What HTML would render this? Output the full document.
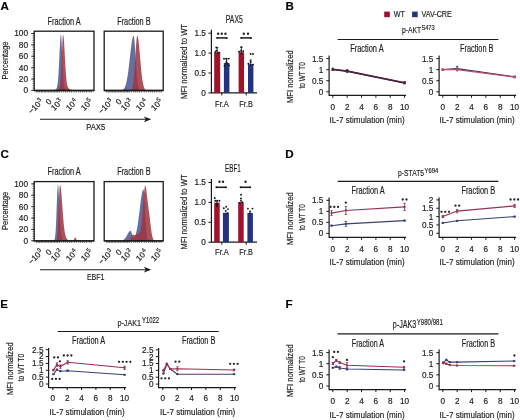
<!DOCTYPE html><html><head><meta charset="utf-8"><style>html,body{margin:0;padding:0;background:#fff;width:520px;height:420px;overflow:hidden}svg{display:block}</style></head><body><svg width="520" height="420" viewBox="0 0 520 420" font-family='"Liberation Sans", sans-serif' fill="#1a1a1a">
<style>text{stroke:#262626;stroke-width:0.18px}</style>
<defs><filter id="bl" x="0" y="0" width="1" height="1" color-interpolation-filters="sRGB"><feGaussianBlur stdDeviation="0.33"/></filter></defs>
<rect width="520" height="420" fill="#fff"/>
<g filter="url(#bl)">
<text x="0.60" y="10.00" font-size="11.6" font-weight="bold" fill="#000">A</text>
<path d="M34.20,90.50 L49.95,90.48 L50.20,90.47 L50.45,90.46 L50.70,90.46 L50.95,90.45 L51.20,90.43 L51.45,90.42 L51.70,90.40 L51.95,90.38 L52.20,90.36 L52.45,90.33 L52.70,90.30 L52.95,90.27 L53.20,90.23 L53.45,90.19 L53.70,90.14 L53.95,90.08 L54.20,90.02 L54.45,89.95 L54.70,89.87 L54.95,89.77 L55.20,89.67 L55.45,89.54 L55.70,89.38 L55.95,89.18 L56.20,88.91 L56.45,88.53 L56.70,88.01 L56.95,87.28 L57.20,86.28 L57.45,84.91 L57.70,83.10 L57.95,80.75 L58.20,77.79 L58.45,74.18 L58.70,69.94 L58.95,65.13 L59.20,59.89 L59.45,54.45 L59.70,49.09 L59.95,44.12 L60.20,39.90 L60.45,36.71 L60.70,34.83 L60.95,34.40 L61.20,35.78 L61.45,38.98 L61.70,43.67 L61.95,49.39 L62.20,55.62 L62.45,61.87 L62.70,67.73 L62.95,72.92 L63.20,77.29 L63.45,80.79 L63.70,83.47 L63.95,85.46 L64.20,86.88 L64.45,87.86 L64.70,88.53 L64.95,88.99 L65.20,89.30 L65.45,89.53 L65.70,89.69 L65.95,89.82 L66.20,89.92 L66.45,90.01 L66.70,90.09 L66.95,90.15 L67.20,90.21 L67.45,90.26 L67.70,90.30 L67.95,90.33 L68.20,90.36 L68.45,90.39 L68.70,90.41 L68.95,90.43 L69.20,90.44 L69.45,90.46 L69.70,90.47 L69.95,90.47 L70.20,90.48 L94.00,90.50 Z" fill="#555e94" fill-opacity="0.9"/>
<path d="M34.20,90.50 L54.20,90.48 L54.45,90.47 L54.70,90.46 L54.95,90.45 L55.20,90.43 L55.45,90.42 L55.70,90.40 L55.95,90.37 L56.20,90.34 L56.45,90.30 L56.70,90.26 L56.95,90.20 L57.20,90.14 L57.45,90.07 L57.70,89.99 L57.95,89.88 L58.20,89.76 L58.45,89.60 L58.70,89.39 L58.95,89.10 L59.20,88.69 L59.45,88.10 L59.70,87.24 L59.95,85.99 L60.20,84.25 L60.45,81.87 L60.70,78.72 L60.95,74.75 L61.20,69.93 L61.45,64.38 L61.70,58.33 L61.95,52.13 L62.20,46.22 L62.45,41.12 L62.70,37.30 L62.95,35.14 L63.20,34.81 L63.45,35.75 L63.70,37.77 L63.95,40.74 L64.20,44.46 L64.45,48.72 L64.70,53.30 L64.95,57.98 L65.20,62.56 L65.45,66.88 L65.70,70.83 L65.95,74.32 L66.20,77.33 L66.45,79.85 L66.70,81.92 L66.95,83.58 L67.20,84.89 L67.45,85.90 L67.70,86.69 L67.95,87.28 L68.20,87.74 L68.45,88.10 L68.70,88.39 L68.95,88.62 L69.20,88.81 L69.45,88.98 L69.70,89.13 L69.95,89.26 L70.20,89.38 L70.45,89.49 L70.70,89.60 L70.95,89.69 L71.20,89.78 L71.45,89.86 L71.70,89.93 L71.95,90.00 L72.20,90.06 L72.45,90.11 L72.70,90.16 L72.95,90.21 L73.20,90.25 L73.45,90.28 L73.70,90.31 L73.95,90.34 L74.20,90.36 L74.45,90.38 L74.70,90.40 L74.95,90.42 L75.20,90.43 L75.45,90.44 L75.70,90.45 L75.95,90.46 L76.20,90.47 L76.45,90.47 L76.70,90.48 L94.00,90.50 Z" fill="#9e343f" fill-opacity="0.86"/>
<rect x="34.20" y="31.20" width="59.80" height="59.30" fill="none" stroke="#1a1a1a" stroke-width="1.3"/>
<line x1="34.20" y1="90.50" x2="94.00" y2="90.50" stroke="#1a1a1a" stroke-width="1.4" />
<line x1="36.70" y1="90.50" x2="36.70" y2="92.50" stroke="#1a1a1a" stroke-width="0.7" />
<line x1="38.20" y1="90.50" x2="38.20" y2="92.50" stroke="#1a1a1a" stroke-width="0.7" />
<line x1="39.70" y1="90.50" x2="39.70" y2="92.50" stroke="#1a1a1a" stroke-width="0.7" />
<line x1="41.20" y1="90.50" x2="41.20" y2="92.50" stroke="#1a1a1a" stroke-width="0.7" />
<line x1="42.70" y1="90.50" x2="42.70" y2="92.50" stroke="#1a1a1a" stroke-width="0.7" />
<line x1="44.20" y1="90.50" x2="44.20" y2="92.50" stroke="#1a1a1a" stroke-width="0.7" />
<line x1="45.70" y1="90.50" x2="45.70" y2="92.50" stroke="#1a1a1a" stroke-width="0.7" />
<line x1="47.20" y1="90.50" x2="47.20" y2="92.50" stroke="#1a1a1a" stroke-width="0.7" />
<line x1="48.70" y1="90.50" x2="48.70" y2="92.50" stroke="#1a1a1a" stroke-width="0.7" />
<line x1="50.20" y1="90.50" x2="50.20" y2="92.50" stroke="#1a1a1a" stroke-width="0.7" />
<line x1="51.70" y1="90.50" x2="51.70" y2="92.50" stroke="#1a1a1a" stroke-width="0.7" />
<line x1="53.20" y1="90.50" x2="53.20" y2="92.50" stroke="#1a1a1a" stroke-width="0.7" />
<line x1="54.70" y1="90.50" x2="54.70" y2="92.50" stroke="#1a1a1a" stroke-width="0.7" />
<line x1="56.20" y1="90.50" x2="56.20" y2="92.50" stroke="#1a1a1a" stroke-width="0.7" />
<line x1="57.70" y1="90.50" x2="57.70" y2="92.50" stroke="#1a1a1a" stroke-width="0.7" />
<line x1="59.20" y1="90.50" x2="59.20" y2="92.50" stroke="#1a1a1a" stroke-width="0.7" />
<line x1="61.20" y1="90.50" x2="61.20" y2="92.50" stroke="#1a1a1a" stroke-width="0.7" />
<line x1="63.70" y1="90.50" x2="63.70" y2="92.50" stroke="#1a1a1a" stroke-width="0.7" />
<line x1="65.70" y1="90.50" x2="65.70" y2="92.50" stroke="#1a1a1a" stroke-width="0.7" />
<line x1="67.70" y1="90.50" x2="67.70" y2="92.50" stroke="#1a1a1a" stroke-width="0.7" />
<line x1="69.70" y1="90.50" x2="69.70" y2="92.50" stroke="#1a1a1a" stroke-width="0.7" />
<line x1="71.70" y1="90.50" x2="71.70" y2="92.50" stroke="#1a1a1a" stroke-width="0.7" />
<line x1="74.20" y1="90.50" x2="74.20" y2="92.50" stroke="#1a1a1a" stroke-width="0.7" />
<line x1="76.20" y1="90.50" x2="76.20" y2="92.50" stroke="#1a1a1a" stroke-width="0.7" />
<line x1="78.70" y1="90.50" x2="78.70" y2="92.50" stroke="#1a1a1a" stroke-width="0.7" />
<line x1="80.70" y1="90.50" x2="80.70" y2="92.50" stroke="#1a1a1a" stroke-width="0.7" />
<line x1="82.70" y1="90.50" x2="82.70" y2="92.50" stroke="#1a1a1a" stroke-width="0.7" />
<line x1="84.70" y1="90.50" x2="84.70" y2="92.50" stroke="#1a1a1a" stroke-width="0.7" />
<line x1="86.70" y1="90.50" x2="86.70" y2="92.50" stroke="#1a1a1a" stroke-width="0.7" />
<line x1="89.20" y1="90.50" x2="89.20" y2="92.50" stroke="#1a1a1a" stroke-width="0.7" />
<line x1="91.20" y1="90.50" x2="91.20" y2="92.50" stroke="#1a1a1a" stroke-width="0.7" />
<text x="47.50" y="24.70" font-size="10.0" textLength="33.10" lengthAdjust="spacingAndGlyphs">Fraction A</text>
<g transform="translate(43.90 102.10) rotate(-45)"><text x="-3.9" y="0" font-size="8.1" text-anchor="end">−10</text><text x="-0.2" y="-3.2" font-size="6.0" text-anchor="end">3</text></g>
<g transform="translate(52.30 102.10) rotate(-45)"><text x="0" y="0" font-size="8.1" text-anchor="end">0</text></g>
<g transform="translate(63.40 102.10) rotate(-45)"><text x="-3.9" y="0" font-size="8.1" text-anchor="end">10</text><text x="-0.2" y="-3.2" font-size="6.0" text-anchor="end">3</text></g>
<g transform="translate(78.40 102.10) rotate(-45)"><text x="-3.9" y="0" font-size="8.1" text-anchor="end">10</text><text x="-0.2" y="-3.2" font-size="6.0" text-anchor="end">4</text></g>
<g transform="translate(93.40 102.10) rotate(-45)"><text x="-3.9" y="0" font-size="8.1" text-anchor="end">10</text><text x="-0.2" y="-3.2" font-size="6.0" text-anchor="end">5</text></g>
<path d="M104.20,90.50 L118.95,90.48 L119.20,90.47 L119.45,90.46 L119.70,90.45 L119.95,90.44 L120.20,90.42 L120.45,90.40 L120.70,90.37 L120.95,90.34 L121.20,90.30 L121.45,90.25 L121.70,90.19 L121.95,90.12 L122.20,90.02 L122.45,89.92 L122.70,89.79 L122.95,89.63 L123.20,89.45 L123.45,89.23 L123.70,88.97 L123.95,88.68 L124.20,88.33 L124.45,87.93 L124.70,87.47 L124.95,86.94 L125.20,86.34 L125.45,85.66 L125.70,84.90 L125.95,84.05 L126.20,83.09 L126.45,82.04 L126.70,80.88 L126.95,79.62 L127.20,78.24 L127.45,76.75 L127.70,75.15 L127.95,73.45 L128.20,71.64 L128.45,69.73 L128.70,67.73 L128.95,65.66 L129.20,63.52 L129.45,61.33 L129.70,59.10 L129.95,56.86 L130.20,54.63 L130.45,52.41 L130.70,50.25 L130.95,48.16 L131.20,46.16 L131.45,44.28 L131.70,42.54 L131.95,40.96 L132.20,39.56 L132.45,38.36 L132.70,37.38 L132.95,36.62 L133.20,36.10 L133.45,35.82 L133.70,35.85 L133.95,36.61 L134.20,38.19 L134.45,40.51 L134.70,43.46 L134.95,46.93 L135.20,50.77 L135.45,54.83 L135.70,58.97 L135.95,63.06 L136.20,66.99 L136.45,70.68 L136.70,74.04 L136.95,77.04 L137.20,79.67 L137.45,81.92 L137.70,83.81 L137.95,85.36 L138.20,86.61 L138.45,87.61 L138.70,88.38 L138.95,88.97 L139.20,89.41 L139.45,89.74 L139.70,89.98 L139.95,90.15 L140.20,90.26 L140.45,90.34 L140.70,90.40 L140.95,90.44 L141.20,90.46 L141.45,90.48 L163.20,90.50 Z" fill="#555e94" fill-opacity="0.9"/>
<path d="M104.20,90.50 L129.45,90.48 L129.70,90.46 L129.95,90.44 L130.20,90.40 L130.45,90.34 L130.70,90.26 L130.95,90.15 L131.20,89.98 L131.45,89.74 L131.70,89.41 L131.95,88.97 L132.20,88.38 L132.45,87.61 L132.70,86.61 L132.95,85.36 L133.20,83.81 L133.45,81.92 L133.70,79.67 L133.95,77.04 L134.20,74.04 L134.45,70.68 L134.70,66.99 L134.95,63.06 L135.20,58.97 L135.45,54.83 L135.70,50.77 L135.95,46.93 L136.20,43.46 L136.45,40.51 L136.70,38.19 L136.95,36.61 L137.20,35.85 L137.45,35.86 L137.70,36.34 L137.95,37.23 L138.20,38.53 L138.45,40.21 L138.70,42.21 L138.95,44.50 L139.20,47.03 L139.45,49.75 L139.70,52.60 L139.95,55.53 L140.20,58.50 L140.45,61.44 L140.70,64.32 L140.95,67.10 L141.20,69.76 L141.45,72.26 L141.70,74.58 L141.95,76.72 L142.20,78.67 L142.45,80.42 L142.70,81.98 L142.95,83.36 L143.20,84.56 L143.45,85.60 L143.70,86.49 L143.95,87.24 L144.20,87.87 L144.45,88.40 L144.70,88.83 L144.95,89.19 L145.20,89.48 L145.45,89.71 L145.70,89.89 L145.95,90.04 L146.20,90.15 L146.45,90.24 L146.70,90.30 L146.95,90.36 L147.20,90.39 L147.45,90.42 L147.70,90.44 L147.95,90.46 L148.20,90.47 L163.20,90.50 Z" fill="#9e343f" fill-opacity="0.86"/>
<rect x="104.20" y="31.20" width="59.00" height="59.30" fill="none" stroke="#1a1a1a" stroke-width="1.3"/>
<line x1="104.20" y1="90.50" x2="163.20" y2="90.50" stroke="#1a1a1a" stroke-width="1.4" />
<line x1="106.70" y1="90.50" x2="106.70" y2="92.50" stroke="#1a1a1a" stroke-width="0.7" />
<line x1="108.20" y1="90.50" x2="108.20" y2="92.50" stroke="#1a1a1a" stroke-width="0.7" />
<line x1="109.70" y1="90.50" x2="109.70" y2="92.50" stroke="#1a1a1a" stroke-width="0.7" />
<line x1="111.20" y1="90.50" x2="111.20" y2="92.50" stroke="#1a1a1a" stroke-width="0.7" />
<line x1="112.70" y1="90.50" x2="112.70" y2="92.50" stroke="#1a1a1a" stroke-width="0.7" />
<line x1="114.20" y1="90.50" x2="114.20" y2="92.50" stroke="#1a1a1a" stroke-width="0.7" />
<line x1="115.70" y1="90.50" x2="115.70" y2="92.50" stroke="#1a1a1a" stroke-width="0.7" />
<line x1="117.20" y1="90.50" x2="117.20" y2="92.50" stroke="#1a1a1a" stroke-width="0.7" />
<line x1="118.70" y1="90.50" x2="118.70" y2="92.50" stroke="#1a1a1a" stroke-width="0.7" />
<line x1="120.20" y1="90.50" x2="120.20" y2="92.50" stroke="#1a1a1a" stroke-width="0.7" />
<line x1="121.70" y1="90.50" x2="121.70" y2="92.50" stroke="#1a1a1a" stroke-width="0.7" />
<line x1="123.20" y1="90.50" x2="123.20" y2="92.50" stroke="#1a1a1a" stroke-width="0.7" />
<line x1="124.70" y1="90.50" x2="124.70" y2="92.50" stroke="#1a1a1a" stroke-width="0.7" />
<line x1="126.20" y1="90.50" x2="126.20" y2="92.50" stroke="#1a1a1a" stroke-width="0.7" />
<line x1="127.70" y1="90.50" x2="127.70" y2="92.50" stroke="#1a1a1a" stroke-width="0.7" />
<line x1="129.20" y1="90.50" x2="129.20" y2="92.50" stroke="#1a1a1a" stroke-width="0.7" />
<line x1="131.20" y1="90.50" x2="131.20" y2="92.50" stroke="#1a1a1a" stroke-width="0.7" />
<line x1="133.70" y1="90.50" x2="133.70" y2="92.50" stroke="#1a1a1a" stroke-width="0.7" />
<line x1="135.70" y1="90.50" x2="135.70" y2="92.50" stroke="#1a1a1a" stroke-width="0.7" />
<line x1="137.70" y1="90.50" x2="137.70" y2="92.50" stroke="#1a1a1a" stroke-width="0.7" />
<line x1="139.70" y1="90.50" x2="139.70" y2="92.50" stroke="#1a1a1a" stroke-width="0.7" />
<line x1="141.70" y1="90.50" x2="141.70" y2="92.50" stroke="#1a1a1a" stroke-width="0.7" />
<line x1="144.20" y1="90.50" x2="144.20" y2="92.50" stroke="#1a1a1a" stroke-width="0.7" />
<line x1="146.20" y1="90.50" x2="146.20" y2="92.50" stroke="#1a1a1a" stroke-width="0.7" />
<line x1="148.70" y1="90.50" x2="148.70" y2="92.50" stroke="#1a1a1a" stroke-width="0.7" />
<line x1="150.70" y1="90.50" x2="150.70" y2="92.50" stroke="#1a1a1a" stroke-width="0.7" />
<line x1="152.70" y1="90.50" x2="152.70" y2="92.50" stroke="#1a1a1a" stroke-width="0.7" />
<line x1="154.70" y1="90.50" x2="154.70" y2="92.50" stroke="#1a1a1a" stroke-width="0.7" />
<line x1="156.70" y1="90.50" x2="156.70" y2="92.50" stroke="#1a1a1a" stroke-width="0.7" />
<line x1="159.20" y1="90.50" x2="159.20" y2="92.50" stroke="#1a1a1a" stroke-width="0.7" />
<line x1="161.20" y1="90.50" x2="161.20" y2="92.50" stroke="#1a1a1a" stroke-width="0.7" />
<text x="117.20" y="24.70" font-size="10.0" textLength="33.40" lengthAdjust="spacingAndGlyphs">Fraction B</text>
<g transform="translate(113.90 102.10) rotate(-45)"><text x="-3.9" y="0" font-size="8.1" text-anchor="end">−10</text><text x="-0.2" y="-3.2" font-size="6.0" text-anchor="end">3</text></g>
<g transform="translate(122.30 102.10) rotate(-45)"><text x="0" y="0" font-size="8.1" text-anchor="end">0</text></g>
<g transform="translate(133.40 102.10) rotate(-45)"><text x="-3.9" y="0" font-size="8.1" text-anchor="end">10</text><text x="-0.2" y="-3.2" font-size="6.0" text-anchor="end">3</text></g>
<g transform="translate(148.40 102.10) rotate(-45)"><text x="-3.9" y="0" font-size="8.1" text-anchor="end">10</text><text x="-0.2" y="-3.2" font-size="6.0" text-anchor="end">4</text></g>
<g transform="translate(163.40 102.10) rotate(-45)"><text x="-3.9" y="0" font-size="8.1" text-anchor="end">10</text><text x="-0.2" y="-3.2" font-size="6.0" text-anchor="end">5</text></g>
<text x="28.00" y="36.40" font-size="8.3" text-anchor="end">100</text>
<line x1="31.20" y1="33.50" x2="34.20" y2="33.50" stroke="#1a1a1a" stroke-width="0.9" />
<text x="28.00" y="47.78" font-size="8.3" text-anchor="end">80</text>
<line x1="31.20" y1="44.88" x2="34.20" y2="44.88" stroke="#1a1a1a" stroke-width="0.9" />
<text x="28.00" y="59.16" font-size="8.3" text-anchor="end">60</text>
<line x1="31.20" y1="56.26" x2="34.20" y2="56.26" stroke="#1a1a1a" stroke-width="0.9" />
<text x="28.00" y="70.54" font-size="8.3" text-anchor="end">40</text>
<line x1="31.20" y1="67.64" x2="34.20" y2="67.64" stroke="#1a1a1a" stroke-width="0.9" />
<text x="28.00" y="81.92" font-size="8.3" text-anchor="end">20</text>
<line x1="31.20" y1="79.02" x2="34.20" y2="79.02" stroke="#1a1a1a" stroke-width="0.9" />
<text x="28.00" y="93.30" font-size="8.3" text-anchor="end">0</text>
<line x1="31.20" y1="90.40" x2="34.20" y2="90.40" stroke="#1a1a1a" stroke-width="0.9" />
<line x1="32.50" y1="33.50" x2="34.20" y2="33.50" stroke="#1a1a1a" stroke-width="0.6" />
<line x1="32.50" y1="35.78" x2="34.20" y2="35.78" stroke="#1a1a1a" stroke-width="0.6" />
<line x1="32.50" y1="38.05" x2="34.20" y2="38.05" stroke="#1a1a1a" stroke-width="0.6" />
<line x1="32.50" y1="40.33" x2="34.20" y2="40.33" stroke="#1a1a1a" stroke-width="0.6" />
<line x1="32.50" y1="42.60" x2="34.20" y2="42.60" stroke="#1a1a1a" stroke-width="0.6" />
<line x1="32.50" y1="44.88" x2="34.20" y2="44.88" stroke="#1a1a1a" stroke-width="0.6" />
<line x1="32.50" y1="47.16" x2="34.20" y2="47.16" stroke="#1a1a1a" stroke-width="0.6" />
<line x1="32.50" y1="49.43" x2="34.20" y2="49.43" stroke="#1a1a1a" stroke-width="0.6" />
<line x1="32.50" y1="51.71" x2="34.20" y2="51.71" stroke="#1a1a1a" stroke-width="0.6" />
<line x1="32.50" y1="53.98" x2="34.20" y2="53.98" stroke="#1a1a1a" stroke-width="0.6" />
<line x1="32.50" y1="56.26" x2="34.20" y2="56.26" stroke="#1a1a1a" stroke-width="0.6" />
<line x1="32.50" y1="58.54" x2="34.20" y2="58.54" stroke="#1a1a1a" stroke-width="0.6" />
<line x1="32.50" y1="60.81" x2="34.20" y2="60.81" stroke="#1a1a1a" stroke-width="0.6" />
<line x1="32.50" y1="63.09" x2="34.20" y2="63.09" stroke="#1a1a1a" stroke-width="0.6" />
<line x1="32.50" y1="65.36" x2="34.20" y2="65.36" stroke="#1a1a1a" stroke-width="0.6" />
<line x1="32.50" y1="67.64" x2="34.20" y2="67.64" stroke="#1a1a1a" stroke-width="0.6" />
<line x1="32.50" y1="69.92" x2="34.20" y2="69.92" stroke="#1a1a1a" stroke-width="0.6" />
<line x1="32.50" y1="72.19" x2="34.20" y2="72.19" stroke="#1a1a1a" stroke-width="0.6" />
<line x1="32.50" y1="74.47" x2="34.20" y2="74.47" stroke="#1a1a1a" stroke-width="0.6" />
<line x1="32.50" y1="76.74" x2="34.20" y2="76.74" stroke="#1a1a1a" stroke-width="0.6" />
<line x1="32.50" y1="79.02" x2="34.20" y2="79.02" stroke="#1a1a1a" stroke-width="0.6" />
<line x1="32.50" y1="81.30" x2="34.20" y2="81.30" stroke="#1a1a1a" stroke-width="0.6" />
<line x1="32.50" y1="83.57" x2="34.20" y2="83.57" stroke="#1a1a1a" stroke-width="0.6" />
<line x1="32.50" y1="85.85" x2="34.20" y2="85.85" stroke="#1a1a1a" stroke-width="0.6" />
<line x1="32.50" y1="88.12" x2="34.20" y2="88.12" stroke="#1a1a1a" stroke-width="0.6" />
<line x1="32.50" y1="90.40" x2="34.20" y2="90.40" stroke="#1a1a1a" stroke-width="0.6" />
<text x="7.90" y="60.50" font-size="9.0" text-anchor="middle" textLength="38.00" lengthAdjust="spacingAndGlyphs" transform="rotate(-90 7.90 60.50)">Percentage</text>
<line x1="40.00" y1="119.30" x2="146.00" y2="119.30" stroke="#1a1a1a" stroke-width="1.1" />
<path d="M143.8,116.40 L151.3,119.30 L143.8,122.20 L145.9,119.30 Z" fill="#1a1a1a"/>
<text x="95.70" y="129.70" font-size="9.2" text-anchor="middle" textLength="19.00" lengthAdjust="spacingAndGlyphs">PAX5</text>
<text x="234.30" y="22.50" font-size="10.5" text-anchor="middle" textLength="17.00" lengthAdjust="spacingAndGlyphs">PAX5</text>
<line x1="211.40" y1="29.80" x2="211.40" y2="93.30" stroke="#1a1a1a" stroke-width="1.2" />
<line x1="208.40" y1="33.20" x2="211.40" y2="33.20" stroke="#1a1a1a" stroke-width="1.0" />
<text x="205.90" y="36.10" font-size="8.2" text-anchor="end">1.5</text>
<line x1="208.40" y1="53.10" x2="211.40" y2="53.10" stroke="#1a1a1a" stroke-width="1.0" />
<text x="205.90" y="56.00" font-size="8.2" text-anchor="end">1.0</text>
<line x1="208.40" y1="73.00" x2="211.40" y2="73.00" stroke="#1a1a1a" stroke-width="1.0" />
<text x="205.90" y="75.90" font-size="8.2" text-anchor="end">0.5</text>
<line x1="208.40" y1="92.90" x2="211.40" y2="92.90" stroke="#1a1a1a" stroke-width="1.0" />
<text x="205.90" y="95.80" font-size="8.2" text-anchor="end">0</text>
<line x1="211.40" y1="92.90" x2="257.00" y2="92.90" stroke="#1a1a1a" stroke-width="1.2" />
<line x1="221.80" y1="92.90" x2="221.80" y2="95.50" stroke="#1a1a1a" stroke-width="1.0" />
<line x1="246.20" y1="92.90" x2="246.20" y2="95.50" stroke="#1a1a1a" stroke-width="1.0" />
<text x="222.00" y="107.20" font-size="9.1" text-anchor="middle" textLength="13.80" lengthAdjust="spacingAndGlyphs">Fr.A</text>
<text x="246.10" y="107.20" font-size="9.1" text-anchor="middle" textLength="13.50" lengthAdjust="spacingAndGlyphs">Fr.B</text>
<rect x="214.20" y="52.90" width="6.00" height="40.00" fill="#a0122c" />
<line x1="217.20" y1="47.60" x2="217.20" y2="53.50" stroke="#111" stroke-width="0.9" />
<line x1="216.00" y1="47.60" x2="218.40" y2="47.60" stroke="#111" stroke-width="0.8" />
<circle cx="216.30" cy="47.50" r="0.95" fill="#151515"/>
<circle cx="216.20" cy="50.80" r="0.95" fill="#151515"/>
<circle cx="215.20" cy="52.30" r="0.95" fill="#151515"/>
<circle cx="217.60" cy="52.40" r="0.95" fill="#151515"/>
<circle cx="219.30" cy="52.80" r="0.95" fill="#151515"/>
<rect x="223.90" y="63.00" width="5.50" height="29.90" fill="#23337e" />
<line x1="226.65" y1="58.80" x2="226.65" y2="64.50" stroke="#111" stroke-width="0.9" />
<line x1="225.45" y1="58.80" x2="227.85" y2="58.80" stroke="#111" stroke-width="0.8" />
<circle cx="224.00" cy="58.80" r="0.95" fill="#151515"/>
<circle cx="226.20" cy="58.80" r="0.95" fill="#151515"/>
<circle cx="228.80" cy="58.60" r="0.95" fill="#151515"/>
<circle cx="226.30" cy="61.90" r="0.95" fill="#151515"/>
<circle cx="227.20" cy="63.40" r="0.95" fill="#151515"/>
<circle cx="229.00" cy="65.50" r="0.95" fill="#151515"/>
<circle cx="224.60" cy="66.00" r="0.95" fill="#151515"/>
<rect x="238.60" y="52.30" width="5.50" height="40.60" fill="#a0122c" />
<line x1="241.35" y1="47.20" x2="241.35" y2="53.50" stroke="#111" stroke-width="0.9" />
<line x1="240.15" y1="47.20" x2="242.55" y2="47.20" stroke="#111" stroke-width="0.8" />
<circle cx="241.40" cy="47.10" r="0.95" fill="#151515"/>
<circle cx="241.00" cy="50.80" r="0.95" fill="#151515"/>
<circle cx="239.10" cy="51.70" r="0.95" fill="#151515"/>
<circle cx="243.20" cy="51.20" r="0.95" fill="#151515"/>
<circle cx="241.40" cy="53.60" r="0.95" fill="#151515"/>
<rect x="248.00" y="64.20" width="5.40" height="28.70" fill="#23337e" />
<line x1="250.70" y1="60.00" x2="250.70" y2="66.00" stroke="#111" stroke-width="0.9" />
<line x1="249.50" y1="60.00" x2="251.90" y2="60.00" stroke="#111" stroke-width="0.8" />
<circle cx="250.60" cy="54.00" r="0.95" fill="#151515"/>
<circle cx="253.00" cy="54.00" r="0.95" fill="#151515"/>
<circle cx="250.60" cy="61.90" r="0.95" fill="#151515"/>
<circle cx="248.40" cy="63.70" r="0.95" fill="#151515"/>
<circle cx="253.00" cy="64.60" r="0.95" fill="#151515"/>
<line x1="217.10" y1="37.90" x2="226.80" y2="37.90" stroke="#1a1a1a" stroke-width="1.5" />
<circle cx="217.10" cy="37.90" r="1.0" fill="#1a1a1a"/>
<circle cx="226.80" cy="37.90" r="1.0" fill="#1a1a1a"/>
<circle cx="218.15" cy="33.80" r="1.2" fill="#262626"/>
<circle cx="221.80" cy="33.80" r="1.2" fill="#262626"/>
<circle cx="225.45" cy="33.80" r="1.2" fill="#262626"/>
<line x1="241.20" y1="37.90" x2="251.00" y2="37.90" stroke="#1a1a1a" stroke-width="1.5" />
<circle cx="241.20" cy="37.90" r="1.0" fill="#1a1a1a"/>
<circle cx="251.00" cy="37.90" r="1.0" fill="#1a1a1a"/>
<circle cx="243.80" cy="33.80" r="1.2" fill="#262626"/>
<circle cx="248.00" cy="33.80" r="1.2" fill="#262626"/>
<text x="186.90" y="61.50" font-size="8.9" text-anchor="middle" textLength="75.00" lengthAdjust="spacingAndGlyphs" transform="rotate(-90 186.90 61.50)">MFI normalized to WT</text>
<text x="0.60" y="157.90" font-size="11.6" font-weight="bold" fill="#000">C</text>
<path d="M34.20,240.90 L52.45,240.87 L52.70,240.86 L52.95,240.84 L53.20,240.81 L53.45,240.75 L53.70,240.65 L53.95,240.49 L54.20,240.21 L54.45,239.74 L54.70,238.98 L54.95,237.79 L55.20,236.01 L55.45,233.45 L55.70,229.96 L55.95,225.43 L56.20,219.87 L56.45,213.46 L56.70,206.54 L56.95,199.63 L57.20,193.38 L57.45,188.44 L57.70,185.39 L57.95,184.58 L58.20,185.57 L58.45,187.99 L58.70,191.65 L58.95,196.26 L59.20,201.49 L59.45,206.98 L59.70,212.44 L59.95,217.59 L60.20,222.24 L60.45,226.29 L60.70,229.67 L60.95,232.41 L61.20,234.56 L61.45,236.20 L61.70,237.42 L61.95,238.31 L62.20,238.94 L62.45,239.40 L62.70,239.72 L62.95,239.95 L63.20,240.13 L63.45,240.26 L63.70,240.36 L63.95,240.45 L64.20,240.52 L64.45,240.58 L64.70,240.63 L64.95,240.67 L65.20,240.71 L65.45,240.74 L65.70,240.77 L65.95,240.80 L66.20,240.82 L66.45,240.83 L66.70,240.85 L66.95,240.86 L67.20,240.87 L67.45,240.87 L67.70,240.88 L94.00,240.90 Z" fill="#555e94" fill-opacity="0.9"/>
<path d="M34.20,240.90 L55.20,240.86 L55.45,240.82 L55.70,240.75 L55.95,240.62 L56.20,240.37 L56.45,239.95 L56.70,239.25 L56.95,238.13 L57.20,236.43 L57.45,233.96 L57.70,230.57 L57.95,226.16 L58.20,220.72 L58.45,214.41 L58.70,207.58 L58.95,200.73 L59.20,194.47 L59.45,189.47 L59.70,186.27 L59.95,185.21 L60.20,185.30 L60.45,186.01 L60.70,187.31 L60.95,189.16 L61.20,191.51 L61.45,194.27 L61.70,197.36 L61.95,200.71 L62.20,204.20 L62.45,207.71 L62.70,211.18 L62.95,214.53 L63.20,217.71 L63.45,220.68 L63.70,223.40 L63.95,225.87 L64.20,228.07 L64.45,230.01 L64.70,231.70 L64.95,233.16 L65.20,234.41 L65.45,235.47 L65.70,236.36 L65.95,237.10 L66.20,237.73 L66.45,238.25 L66.70,238.68 L66.95,239.04 L67.20,239.34 L67.45,239.59 L67.70,239.80 L67.95,239.97 L68.20,240.12 L68.45,240.25 L68.70,240.36 L68.95,240.45 L69.20,240.52 L69.45,240.59 L69.70,240.64 L69.95,240.69 L70.20,240.73 L70.45,240.76 L70.70,240.79 L70.95,240.81 L71.20,240.83 L71.45,240.84 L71.70,240.85 L71.95,240.86 L72.20,240.86 L72.45,240.85 L72.70,240.81 L72.95,240.74 L73.20,240.60 L73.45,240.38 L73.70,240.04 L73.95,239.59 L74.20,239.05 L74.45,238.48 L74.70,237.97 L74.95,237.61 L75.20,237.48 L75.45,237.61 L75.70,237.97 L75.95,238.48 L76.20,239.05 L76.45,239.60 L76.70,240.05 L76.95,240.38 L77.20,240.61 L77.45,240.75 L77.70,240.83 L77.95,240.87 L94.00,240.90 Z" fill="#9e343f" fill-opacity="0.86"/>
<rect x="34.20" y="181.60" width="59.80" height="59.30" fill="none" stroke="#1a1a1a" stroke-width="1.3"/>
<line x1="34.20" y1="240.90" x2="94.00" y2="240.90" stroke="#1a1a1a" stroke-width="1.4" />
<line x1="36.70" y1="240.90" x2="36.70" y2="242.90" stroke="#1a1a1a" stroke-width="0.7" />
<line x1="38.20" y1="240.90" x2="38.20" y2="242.90" stroke="#1a1a1a" stroke-width="0.7" />
<line x1="39.70" y1="240.90" x2="39.70" y2="242.90" stroke="#1a1a1a" stroke-width="0.7" />
<line x1="41.20" y1="240.90" x2="41.20" y2="242.90" stroke="#1a1a1a" stroke-width="0.7" />
<line x1="42.70" y1="240.90" x2="42.70" y2="242.90" stroke="#1a1a1a" stroke-width="0.7" />
<line x1="44.20" y1="240.90" x2="44.20" y2="242.90" stroke="#1a1a1a" stroke-width="0.7" />
<line x1="45.70" y1="240.90" x2="45.70" y2="242.90" stroke="#1a1a1a" stroke-width="0.7" />
<line x1="47.20" y1="240.90" x2="47.20" y2="242.90" stroke="#1a1a1a" stroke-width="0.7" />
<line x1="48.70" y1="240.90" x2="48.70" y2="242.90" stroke="#1a1a1a" stroke-width="0.7" />
<line x1="50.20" y1="240.90" x2="50.20" y2="242.90" stroke="#1a1a1a" stroke-width="0.7" />
<line x1="51.70" y1="240.90" x2="51.70" y2="242.90" stroke="#1a1a1a" stroke-width="0.7" />
<line x1="53.20" y1="240.90" x2="53.20" y2="242.90" stroke="#1a1a1a" stroke-width="0.7" />
<line x1="54.70" y1="240.90" x2="54.70" y2="242.90" stroke="#1a1a1a" stroke-width="0.7" />
<line x1="56.20" y1="240.90" x2="56.20" y2="242.90" stroke="#1a1a1a" stroke-width="0.7" />
<line x1="57.70" y1="240.90" x2="57.70" y2="242.90" stroke="#1a1a1a" stroke-width="0.7" />
<line x1="59.20" y1="240.90" x2="59.20" y2="242.90" stroke="#1a1a1a" stroke-width="0.7" />
<line x1="61.20" y1="240.90" x2="61.20" y2="242.90" stroke="#1a1a1a" stroke-width="0.7" />
<line x1="63.70" y1="240.90" x2="63.70" y2="242.90" stroke="#1a1a1a" stroke-width="0.7" />
<line x1="65.70" y1="240.90" x2="65.70" y2="242.90" stroke="#1a1a1a" stroke-width="0.7" />
<line x1="67.70" y1="240.90" x2="67.70" y2="242.90" stroke="#1a1a1a" stroke-width="0.7" />
<line x1="69.70" y1="240.90" x2="69.70" y2="242.90" stroke="#1a1a1a" stroke-width="0.7" />
<line x1="71.70" y1="240.90" x2="71.70" y2="242.90" stroke="#1a1a1a" stroke-width="0.7" />
<line x1="74.20" y1="240.90" x2="74.20" y2="242.90" stroke="#1a1a1a" stroke-width="0.7" />
<line x1="76.20" y1="240.90" x2="76.20" y2="242.90" stroke="#1a1a1a" stroke-width="0.7" />
<line x1="78.70" y1="240.90" x2="78.70" y2="242.90" stroke="#1a1a1a" stroke-width="0.7" />
<line x1="80.70" y1="240.90" x2="80.70" y2="242.90" stroke="#1a1a1a" stroke-width="0.7" />
<line x1="82.70" y1="240.90" x2="82.70" y2="242.90" stroke="#1a1a1a" stroke-width="0.7" />
<line x1="84.70" y1="240.90" x2="84.70" y2="242.90" stroke="#1a1a1a" stroke-width="0.7" />
<line x1="86.70" y1="240.90" x2="86.70" y2="242.90" stroke="#1a1a1a" stroke-width="0.7" />
<line x1="89.20" y1="240.90" x2="89.20" y2="242.90" stroke="#1a1a1a" stroke-width="0.7" />
<line x1="91.20" y1="240.90" x2="91.20" y2="242.90" stroke="#1a1a1a" stroke-width="0.7" />
<text x="47.50" y="175.10" font-size="10.0" textLength="33.10" lengthAdjust="spacingAndGlyphs">Fraction A</text>
<g transform="translate(43.90 252.50) rotate(-45)"><text x="-3.9" y="0" font-size="8.1" text-anchor="end">−10</text><text x="-0.2" y="-3.2" font-size="6.0" text-anchor="end">3</text></g>
<g transform="translate(52.30 252.50) rotate(-45)"><text x="0" y="0" font-size="8.1" text-anchor="end">0</text></g>
<g transform="translate(63.40 252.50) rotate(-45)"><text x="-3.9" y="0" font-size="8.1" text-anchor="end">10</text><text x="-0.2" y="-3.2" font-size="6.0" text-anchor="end">3</text></g>
<g transform="translate(78.40 252.50) rotate(-45)"><text x="-3.9" y="0" font-size="8.1" text-anchor="end">10</text><text x="-0.2" y="-3.2" font-size="6.0" text-anchor="end">4</text></g>
<g transform="translate(93.40 252.50) rotate(-45)"><text x="-3.9" y="0" font-size="8.1" text-anchor="end">10</text><text x="-0.2" y="-3.2" font-size="6.0" text-anchor="end">5</text></g>
<path d="M104.20,240.90 L119.20,240.88 L119.45,240.87 L119.70,240.86 L119.95,240.84 L120.20,240.82 L120.45,240.80 L120.70,240.78 L120.95,240.74 L121.20,240.70 L121.45,240.66 L121.70,240.60 L121.95,240.53 L122.20,240.45 L122.45,240.36 L122.70,240.25 L122.95,240.13 L123.20,240.00 L123.45,239.84 L123.70,239.67 L123.95,239.48 L124.20,239.27 L124.45,239.03 L124.70,238.78 L124.95,238.50 L125.20,238.19 L125.45,237.86 L125.70,237.51 L125.95,237.13 L126.20,236.73 L126.45,236.31 L126.70,235.87 L126.95,235.41 L127.20,234.96 L127.45,234.50 L127.70,234.04 L127.95,233.58 L128.20,233.14 L128.45,232.71 L128.70,232.31 L128.95,231.94 L129.20,231.62 L129.45,231.33 L129.70,231.11 L129.95,230.94 L130.20,230.85 L130.45,230.82 L130.70,230.92 L130.95,231.26 L131.20,231.81 L131.45,232.54 L131.70,233.37 L131.95,234.26 L132.20,235.13 L132.45,235.94 L132.70,236.64 L132.95,237.21 L133.20,237.62 L133.45,237.88 L133.70,237.99 L133.95,237.95 L134.20,237.78 L134.45,237.49 L134.70,237.09 L134.95,236.58 L135.20,235.98 L135.45,235.28 L135.70,234.48 L135.95,233.59 L136.20,232.61 L136.45,231.52 L136.70,230.34 L136.95,229.06 L137.20,227.68 L137.45,226.20 L137.70,224.63 L137.95,222.96 L138.20,221.21 L138.45,219.37 L138.70,217.47 L138.95,215.51 L139.20,213.50 L139.45,211.46 L139.70,209.40 L139.95,207.34 L140.20,205.30 L140.45,203.30 L140.70,201.35 L140.95,199.48 L141.20,197.72 L141.45,196.07 L141.70,194.56 L141.95,193.20 L142.20,192.02 L142.45,191.03 L142.70,190.24 L142.95,189.66 L143.20,189.30 L143.45,189.19 L143.70,189.97 L143.95,191.91 L144.20,194.87 L144.45,198.64 L144.70,202.99 L144.95,207.70 L145.20,212.52 L145.45,217.21 L145.70,221.60 L145.95,225.54 L146.20,228.98 L146.45,231.86 L146.70,234.21 L146.95,236.07 L147.20,237.49 L147.45,238.56 L147.70,239.33 L147.95,239.87 L148.20,240.24 L148.45,240.49 L148.70,240.65 L148.95,240.75 L149.20,240.81 L149.45,240.85 L149.70,240.87 L163.20,240.90 Z" fill="#555e94" fill-opacity="0.9"/>
<path d="M104.20,240.90 L124.45,240.88 L124.70,240.87 L124.95,240.87 L125.20,240.86 L125.45,240.85 L125.70,240.84 L125.95,240.83 L126.20,240.81 L126.45,240.79 L126.70,240.77 L126.95,240.75 L127.20,240.72 L127.45,240.69 L127.70,240.65 L127.95,240.60 L128.20,240.55 L128.45,240.48 L128.70,240.39 L128.95,240.29 L129.20,240.16 L129.45,239.99 L129.70,239.77 L129.95,239.50 L130.20,239.16 L130.45,238.76 L130.70,238.29 L130.95,237.77 L131.20,237.21 L131.45,236.64 L131.70,236.09 L131.95,235.59 L132.20,235.18 L132.45,234.87 L132.70,234.68 L132.95,234.60 L133.20,234.61 L133.45,234.70 L133.70,234.83 L133.95,234.97 L134.20,235.09 L134.45,235.18 L134.70,235.22 L134.95,235.21 L135.20,235.15 L135.45,235.05 L135.70,234.93 L135.95,234.79 L136.20,234.65 L136.45,234.50 L136.70,234.36 L136.95,234.23 L137.20,234.12 L137.45,234.01 L137.70,233.92 L137.95,233.82 L138.20,233.73 L138.45,233.65 L138.70,233.55 L138.95,233.44 L139.20,233.27 L139.45,233.03 L139.70,232.70 L139.95,232.22 L140.20,231.58 L140.45,230.74 L140.70,229.65 L140.95,228.30 L141.20,226.66 L141.45,224.70 L141.70,222.43 L141.95,219.84 L142.20,216.96 L142.45,213.83 L142.70,210.50 L142.95,207.04 L143.20,203.54 L143.45,200.10 L143.70,196.82 L143.95,193.80 L144.20,191.15 L144.45,188.96 L144.70,187.29 L144.95,186.21 L145.20,185.72 L145.45,185.84 L145.70,186.52 L145.95,187.69 L146.20,189.28 L146.45,191.19 L146.70,193.31 L146.95,195.54 L147.20,197.79 L147.45,199.99 L147.70,202.10 L147.95,204.10 L148.20,206.01 L148.45,207.85 L148.70,209.67 L148.95,211.53 L149.20,213.46 L149.45,215.47 L149.70,217.53 L149.95,219.61 L150.20,221.72 L150.45,223.82 L150.70,225.88 L150.95,227.89 L151.20,229.79 L151.45,231.56 L151.70,233.18 L151.95,234.63 L152.20,235.89 L152.45,236.96 L152.70,237.87 L152.95,238.60 L153.20,239.19 L153.45,239.65 L153.70,240.01 L153.95,240.27 L154.20,240.47 L154.45,240.61 L154.70,240.71 L154.95,240.77 L155.20,240.82 L155.45,240.85 L155.70,240.87 L163.20,240.90 Z" fill="#9e343f" fill-opacity="0.86"/>
<rect x="104.20" y="181.60" width="59.00" height="59.30" fill="none" stroke="#1a1a1a" stroke-width="1.3"/>
<line x1="104.20" y1="240.90" x2="163.20" y2="240.90" stroke="#1a1a1a" stroke-width="1.4" />
<line x1="106.70" y1="240.90" x2="106.70" y2="242.90" stroke="#1a1a1a" stroke-width="0.7" />
<line x1="108.20" y1="240.90" x2="108.20" y2="242.90" stroke="#1a1a1a" stroke-width="0.7" />
<line x1="109.70" y1="240.90" x2="109.70" y2="242.90" stroke="#1a1a1a" stroke-width="0.7" />
<line x1="111.20" y1="240.90" x2="111.20" y2="242.90" stroke="#1a1a1a" stroke-width="0.7" />
<line x1="112.70" y1="240.90" x2="112.70" y2="242.90" stroke="#1a1a1a" stroke-width="0.7" />
<line x1="114.20" y1="240.90" x2="114.20" y2="242.90" stroke="#1a1a1a" stroke-width="0.7" />
<line x1="115.70" y1="240.90" x2="115.70" y2="242.90" stroke="#1a1a1a" stroke-width="0.7" />
<line x1="117.20" y1="240.90" x2="117.20" y2="242.90" stroke="#1a1a1a" stroke-width="0.7" />
<line x1="118.70" y1="240.90" x2="118.70" y2="242.90" stroke="#1a1a1a" stroke-width="0.7" />
<line x1="120.20" y1="240.90" x2="120.20" y2="242.90" stroke="#1a1a1a" stroke-width="0.7" />
<line x1="121.70" y1="240.90" x2="121.70" y2="242.90" stroke="#1a1a1a" stroke-width="0.7" />
<line x1="123.20" y1="240.90" x2="123.20" y2="242.90" stroke="#1a1a1a" stroke-width="0.7" />
<line x1="124.70" y1="240.90" x2="124.70" y2="242.90" stroke="#1a1a1a" stroke-width="0.7" />
<line x1="126.20" y1="240.90" x2="126.20" y2="242.90" stroke="#1a1a1a" stroke-width="0.7" />
<line x1="127.70" y1="240.90" x2="127.70" y2="242.90" stroke="#1a1a1a" stroke-width="0.7" />
<line x1="129.20" y1="240.90" x2="129.20" y2="242.90" stroke="#1a1a1a" stroke-width="0.7" />
<line x1="131.20" y1="240.90" x2="131.20" y2="242.90" stroke="#1a1a1a" stroke-width="0.7" />
<line x1="133.70" y1="240.90" x2="133.70" y2="242.90" stroke="#1a1a1a" stroke-width="0.7" />
<line x1="135.70" y1="240.90" x2="135.70" y2="242.90" stroke="#1a1a1a" stroke-width="0.7" />
<line x1="137.70" y1="240.90" x2="137.70" y2="242.90" stroke="#1a1a1a" stroke-width="0.7" />
<line x1="139.70" y1="240.90" x2="139.70" y2="242.90" stroke="#1a1a1a" stroke-width="0.7" />
<line x1="141.70" y1="240.90" x2="141.70" y2="242.90" stroke="#1a1a1a" stroke-width="0.7" />
<line x1="144.20" y1="240.90" x2="144.20" y2="242.90" stroke="#1a1a1a" stroke-width="0.7" />
<line x1="146.20" y1="240.90" x2="146.20" y2="242.90" stroke="#1a1a1a" stroke-width="0.7" />
<line x1="148.70" y1="240.90" x2="148.70" y2="242.90" stroke="#1a1a1a" stroke-width="0.7" />
<line x1="150.70" y1="240.90" x2="150.70" y2="242.90" stroke="#1a1a1a" stroke-width="0.7" />
<line x1="152.70" y1="240.90" x2="152.70" y2="242.90" stroke="#1a1a1a" stroke-width="0.7" />
<line x1="154.70" y1="240.90" x2="154.70" y2="242.90" stroke="#1a1a1a" stroke-width="0.7" />
<line x1="156.70" y1="240.90" x2="156.70" y2="242.90" stroke="#1a1a1a" stroke-width="0.7" />
<line x1="159.20" y1="240.90" x2="159.20" y2="242.90" stroke="#1a1a1a" stroke-width="0.7" />
<line x1="161.20" y1="240.90" x2="161.20" y2="242.90" stroke="#1a1a1a" stroke-width="0.7" />
<text x="117.20" y="175.10" font-size="10.0" textLength="33.40" lengthAdjust="spacingAndGlyphs">Fraction B</text>
<g transform="translate(113.90 252.50) rotate(-45)"><text x="-3.9" y="0" font-size="8.1" text-anchor="end">−10</text><text x="-0.2" y="-3.2" font-size="6.0" text-anchor="end">3</text></g>
<g transform="translate(122.30 252.50) rotate(-45)"><text x="0" y="0" font-size="8.1" text-anchor="end">0</text></g>
<g transform="translate(133.40 252.50) rotate(-45)"><text x="-3.9" y="0" font-size="8.1" text-anchor="end">10</text><text x="-0.2" y="-3.2" font-size="6.0" text-anchor="end">3</text></g>
<g transform="translate(148.40 252.50) rotate(-45)"><text x="-3.9" y="0" font-size="8.1" text-anchor="end">10</text><text x="-0.2" y="-3.2" font-size="6.0" text-anchor="end">4</text></g>
<g transform="translate(163.40 252.50) rotate(-45)"><text x="-3.9" y="0" font-size="8.1" text-anchor="end">10</text><text x="-0.2" y="-3.2" font-size="6.0" text-anchor="end">5</text></g>
<text x="28.00" y="186.80" font-size="8.3" text-anchor="end">100</text>
<line x1="31.20" y1="183.90" x2="34.20" y2="183.90" stroke="#1a1a1a" stroke-width="0.9" />
<text x="28.00" y="198.18" font-size="8.3" text-anchor="end">80</text>
<line x1="31.20" y1="195.28" x2="34.20" y2="195.28" stroke="#1a1a1a" stroke-width="0.9" />
<text x="28.00" y="209.56" font-size="8.3" text-anchor="end">60</text>
<line x1="31.20" y1="206.66" x2="34.20" y2="206.66" stroke="#1a1a1a" stroke-width="0.9" />
<text x="28.00" y="220.94" font-size="8.3" text-anchor="end">40</text>
<line x1="31.20" y1="218.04" x2="34.20" y2="218.04" stroke="#1a1a1a" stroke-width="0.9" />
<text x="28.00" y="232.32" font-size="8.3" text-anchor="end">20</text>
<line x1="31.20" y1="229.42" x2="34.20" y2="229.42" stroke="#1a1a1a" stroke-width="0.9" />
<text x="28.00" y="243.70" font-size="8.3" text-anchor="end">0</text>
<line x1="31.20" y1="240.80" x2="34.20" y2="240.80" stroke="#1a1a1a" stroke-width="0.9" />
<line x1="32.50" y1="183.90" x2="34.20" y2="183.90" stroke="#1a1a1a" stroke-width="0.6" />
<line x1="32.50" y1="186.18" x2="34.20" y2="186.18" stroke="#1a1a1a" stroke-width="0.6" />
<line x1="32.50" y1="188.45" x2="34.20" y2="188.45" stroke="#1a1a1a" stroke-width="0.6" />
<line x1="32.50" y1="190.73" x2="34.20" y2="190.73" stroke="#1a1a1a" stroke-width="0.6" />
<line x1="32.50" y1="193.00" x2="34.20" y2="193.00" stroke="#1a1a1a" stroke-width="0.6" />
<line x1="32.50" y1="195.28" x2="34.20" y2="195.28" stroke="#1a1a1a" stroke-width="0.6" />
<line x1="32.50" y1="197.56" x2="34.20" y2="197.56" stroke="#1a1a1a" stroke-width="0.6" />
<line x1="32.50" y1="199.83" x2="34.20" y2="199.83" stroke="#1a1a1a" stroke-width="0.6" />
<line x1="32.50" y1="202.11" x2="34.20" y2="202.11" stroke="#1a1a1a" stroke-width="0.6" />
<line x1="32.50" y1="204.38" x2="34.20" y2="204.38" stroke="#1a1a1a" stroke-width="0.6" />
<line x1="32.50" y1="206.66" x2="34.20" y2="206.66" stroke="#1a1a1a" stroke-width="0.6" />
<line x1="32.50" y1="208.94" x2="34.20" y2="208.94" stroke="#1a1a1a" stroke-width="0.6" />
<line x1="32.50" y1="211.21" x2="34.20" y2="211.21" stroke="#1a1a1a" stroke-width="0.6" />
<line x1="32.50" y1="213.49" x2="34.20" y2="213.49" stroke="#1a1a1a" stroke-width="0.6" />
<line x1="32.50" y1="215.76" x2="34.20" y2="215.76" stroke="#1a1a1a" stroke-width="0.6" />
<line x1="32.50" y1="218.04" x2="34.20" y2="218.04" stroke="#1a1a1a" stroke-width="0.6" />
<line x1="32.50" y1="220.32" x2="34.20" y2="220.32" stroke="#1a1a1a" stroke-width="0.6" />
<line x1="32.50" y1="222.59" x2="34.20" y2="222.59" stroke="#1a1a1a" stroke-width="0.6" />
<line x1="32.50" y1="224.87" x2="34.20" y2="224.87" stroke="#1a1a1a" stroke-width="0.6" />
<line x1="32.50" y1="227.14" x2="34.20" y2="227.14" stroke="#1a1a1a" stroke-width="0.6" />
<line x1="32.50" y1="229.42" x2="34.20" y2="229.42" stroke="#1a1a1a" stroke-width="0.6" />
<line x1="32.50" y1="231.70" x2="34.20" y2="231.70" stroke="#1a1a1a" stroke-width="0.6" />
<line x1="32.50" y1="233.97" x2="34.20" y2="233.97" stroke="#1a1a1a" stroke-width="0.6" />
<line x1="32.50" y1="236.25" x2="34.20" y2="236.25" stroke="#1a1a1a" stroke-width="0.6" />
<line x1="32.50" y1="238.52" x2="34.20" y2="238.52" stroke="#1a1a1a" stroke-width="0.6" />
<line x1="32.50" y1="240.80" x2="34.20" y2="240.80" stroke="#1a1a1a" stroke-width="0.6" />
<text x="7.90" y="210.90" font-size="9.0" text-anchor="middle" textLength="38.00" lengthAdjust="spacingAndGlyphs" transform="rotate(-90 7.90 210.90)">Percentage</text>
<line x1="40.00" y1="269.70" x2="146.00" y2="269.70" stroke="#1a1a1a" stroke-width="1.1" />
<path d="M143.8,266.80 L151.3,269.70 L143.8,272.60 L145.9,269.70 Z" fill="#1a1a1a"/>
<text x="95.70" y="280.10" font-size="9.2" text-anchor="middle" textLength="17.60" lengthAdjust="spacingAndGlyphs">EBF1</text>
<text x="232.90" y="172.20" font-size="10.5" text-anchor="middle" textLength="15.60" lengthAdjust="spacingAndGlyphs">EBF1</text>
<line x1="211.40" y1="179.10" x2="211.40" y2="242.60" stroke="#1a1a1a" stroke-width="1.2" />
<line x1="208.40" y1="182.50" x2="211.40" y2="182.50" stroke="#1a1a1a" stroke-width="1.0" />
<text x="205.90" y="185.40" font-size="8.2" text-anchor="end">1.5</text>
<line x1="208.40" y1="202.40" x2="211.40" y2="202.40" stroke="#1a1a1a" stroke-width="1.0" />
<text x="205.90" y="205.30" font-size="8.2" text-anchor="end">1.0</text>
<line x1="208.40" y1="222.30" x2="211.40" y2="222.30" stroke="#1a1a1a" stroke-width="1.0" />
<text x="205.90" y="225.20" font-size="8.2" text-anchor="end">0.5</text>
<line x1="208.40" y1="242.20" x2="211.40" y2="242.20" stroke="#1a1a1a" stroke-width="1.0" />
<text x="205.90" y="245.10" font-size="8.2" text-anchor="end">0</text>
<line x1="211.40" y1="242.20" x2="257.00" y2="242.20" stroke="#1a1a1a" stroke-width="1.2" />
<line x1="221.80" y1="242.20" x2="221.80" y2="244.80" stroke="#1a1a1a" stroke-width="1.0" />
<line x1="246.20" y1="242.20" x2="246.20" y2="244.80" stroke="#1a1a1a" stroke-width="1.0" />
<text x="222.00" y="255.40" font-size="9.1" text-anchor="middle" textLength="13.80" lengthAdjust="spacingAndGlyphs">Fr.A</text>
<text x="246.10" y="255.40" font-size="9.1" text-anchor="middle" textLength="13.50" lengthAdjust="spacingAndGlyphs">Fr.B</text>
<rect x="214.20" y="202.60" width="5.50" height="39.60" fill="#a0122c" />
<line x1="216.95" y1="200.80" x2="216.95" y2="206.30" stroke="#111" stroke-width="0.9" />
<line x1="215.75" y1="200.80" x2="218.15" y2="200.80" stroke="#111" stroke-width="0.8" />
<circle cx="214.80" cy="198.00" r="0.95" fill="#151515"/>
<circle cx="215.30" cy="200.80" r="0.95" fill="#151515"/>
<circle cx="217.20" cy="200.80" r="0.95" fill="#151515"/>
<circle cx="219.40" cy="200.80" r="0.95" fill="#151515"/>
<circle cx="217.10" cy="204.00" r="0.95" fill="#151515"/>
<circle cx="217.10" cy="206.30" r="0.95" fill="#151515"/>
<rect x="222.90" y="212.80" width="6.00" height="29.40" fill="#23337e" />
<circle cx="223.80" cy="208.20" r="0.95" fill="#151515"/>
<circle cx="226.20" cy="206.80" r="0.95" fill="#151515"/>
<circle cx="228.00" cy="209.10" r="0.95" fill="#151515"/>
<circle cx="225.70" cy="211.00" r="0.95" fill="#151515"/>
<circle cx="227.50" cy="213.20" r="0.95" fill="#151515"/>
<rect x="238.20" y="202.20" width="5.50" height="40.00" fill="#a0122c" />
<circle cx="241.00" cy="194.80" r="0.95" fill="#151515"/>
<circle cx="241.00" cy="198.50" r="0.95" fill="#151515"/>
<circle cx="241.00" cy="200.80" r="0.95" fill="#151515"/>
<circle cx="239.60" cy="202.90" r="0.95" fill="#151515"/>
<circle cx="242.30" cy="202.30" r="0.95" fill="#151515"/>
<rect x="247.40" y="213.00" width="5.50" height="29.20" fill="#23337e" />
<circle cx="247.90" cy="208.60" r="0.95" fill="#151515"/>
<circle cx="252.50" cy="208.60" r="0.95" fill="#151515"/>
<circle cx="250.20" cy="211.40" r="0.95" fill="#151515"/>
<circle cx="249.80" cy="213.30" r="0.95" fill="#151515"/>
<line x1="216.40" y1="187.30" x2="226.00" y2="187.30" stroke="#1a1a1a" stroke-width="1.5" />
<circle cx="216.40" cy="187.30" r="1.0" fill="#1a1a1a"/>
<circle cx="226.00" cy="187.30" r="1.0" fill="#1a1a1a"/>
<circle cx="219.50" cy="181.80" r="1.2" fill="#262626"/>
<circle cx="223.00" cy="181.80" r="1.2" fill="#262626"/>
<line x1="240.60" y1="187.30" x2="250.10" y2="187.30" stroke="#1a1a1a" stroke-width="1.5" />
<circle cx="240.60" cy="187.30" r="1.0" fill="#1a1a1a"/>
<circle cx="250.10" cy="187.30" r="1.0" fill="#1a1a1a"/>
<circle cx="245.50" cy="181.80" r="1.2" fill="#262626"/>
<text x="186.90" y="211.90" font-size="8.9" text-anchor="middle" textLength="75.00" lengthAdjust="spacingAndGlyphs" transform="rotate(-90 186.90 211.90)">MFI normalized to WT</text>
<text x="285.60" y="9.60" font-size="11.6" font-weight="bold" fill="#000">B</text>
<rect x="384.20" y="11.60" width="5.60" height="5.60" fill="#a0122c" />
<text x="393.80" y="17.00" font-size="8.4" textLength="11.20" lengthAdjust="spacingAndGlyphs">WT</text>
<rect x="412.10" y="11.60" width="5.60" height="5.60" fill="#23337e" />
<text x="421.40" y="17.00" font-size="8.4" textLength="30.40" lengthAdjust="spacingAndGlyphs">VAV-CRE</text>
<text x="401.90" y="33.40" font-size="8.8" textLength="19.30" lengthAdjust="spacingAndGlyphs">p-AKT</text>
<text x="421.40" y="30.40" font-size="7.8" textLength="13.20" lengthAdjust="spacingAndGlyphs">S473</text>
<line x1="337.70" y1="39.50" x2="498.40" y2="39.50" stroke="#1a1a1a" stroke-width="1.2" />
<text x="350.20" y="52.10" font-size="10.0" textLength="33.40" lengthAdjust="spacingAndGlyphs">Fraction A</text>
<text x="460.00" y="52.10" font-size="10.0" textLength="33.40" lengthAdjust="spacingAndGlyphs">Fraction B</text>
<text x="293.20" y="76.70" font-size="8.9" text-anchor="middle" textLength="52.80" lengthAdjust="spacingAndGlyphs" transform="rotate(-90 293.20 76.70)">MFI normalized</text>
<text x="305.00" y="75.30" font-size="8.9" text-anchor="middle" textLength="26.50" lengthAdjust="spacingAndGlyphs" transform="rotate(-90 305.00 75.30)">to WT T0</text>
<line x1="329.10" y1="55.40" x2="329.10" y2="95.90" stroke="#1a1a1a" stroke-width="1.2" />
<line x1="326.30" y1="58.60" x2="329.10" y2="58.60" stroke="#1a1a1a" stroke-width="1.0" />
<text x="323.40" y="61.50" font-size="8.2" text-anchor="end">1.5</text>
<line x1="326.30" y1="69.67" x2="329.10" y2="69.67" stroke="#1a1a1a" stroke-width="1.0" />
<text x="323.40" y="72.57" font-size="8.2" text-anchor="end">1</text>
<line x1="326.30" y1="80.73" x2="329.10" y2="80.73" stroke="#1a1a1a" stroke-width="1.0" />
<text x="323.40" y="83.64" font-size="8.2" text-anchor="end">0.5</text>
<line x1="326.30" y1="91.80" x2="329.10" y2="91.80" stroke="#1a1a1a" stroke-width="1.0" />
<text x="323.40" y="94.70" font-size="8.2" text-anchor="end">0</text>
<line x1="329.10" y1="95.40" x2="406.10" y2="95.40" stroke="#1a1a1a" stroke-width="1.2" />
<line x1="332.80" y1="95.40" x2="332.80" y2="97.80" stroke="#1a1a1a" stroke-width="1.0" />
<text x="332.80" y="109.60" font-size="8.2" text-anchor="middle">0</text>
<line x1="347.16" y1="95.40" x2="347.16" y2="97.80" stroke="#1a1a1a" stroke-width="1.0" />
<text x="347.16" y="109.60" font-size="8.2" text-anchor="middle">2</text>
<line x1="361.52" y1="95.40" x2="361.52" y2="97.80" stroke="#1a1a1a" stroke-width="1.0" />
<text x="361.52" y="109.60" font-size="8.2" text-anchor="middle">4</text>
<line x1="375.88" y1="95.40" x2="375.88" y2="97.80" stroke="#1a1a1a" stroke-width="1.0" />
<text x="375.88" y="109.60" font-size="8.2" text-anchor="middle">6</text>
<line x1="390.24" y1="95.40" x2="390.24" y2="97.80" stroke="#1a1a1a" stroke-width="1.0" />
<text x="390.24" y="109.60" font-size="8.2" text-anchor="middle">8</text>
<line x1="404.60" y1="95.40" x2="404.60" y2="97.80" stroke="#1a1a1a" stroke-width="1.0" />
<text x="404.60" y="109.60" font-size="8.2" text-anchor="middle">10</text>
<text x="367.15" y="122.80" font-size="9.8" text-anchor="middle" textLength="75.30" lengthAdjust="spacingAndGlyphs">IL-7 stimulation (min)</text>
<path d="M332.80,69.67 L347.16,71.22 L404.60,82.95" fill="none" stroke="#3a2a55" stroke-width="1.4"/>
<circle cx="332.80" cy="69.67" r="1.1" fill="#3a2a55"/>
<line x1="332.80" y1="69.01" x2="332.80" y2="70.33" stroke="#3a2a55" stroke-width="0.9" />
<line x1="331.60" y1="69.01" x2="334.00" y2="69.01" stroke="#3a2a55" stroke-width="0.8" />
<line x1="331.60" y1="70.33" x2="334.00" y2="70.33" stroke="#3a2a55" stroke-width="0.8" />
<circle cx="347.16" cy="71.22" r="1.1" fill="#3a2a55"/>
<line x1="347.16" y1="70.56" x2="347.16" y2="71.88" stroke="#3a2a55" stroke-width="0.9" />
<line x1="345.96" y1="70.56" x2="348.36" y2="70.56" stroke="#3a2a55" stroke-width="0.8" />
<line x1="345.96" y1="71.88" x2="348.36" y2="71.88" stroke="#3a2a55" stroke-width="0.8" />
<circle cx="404.60" cy="82.95" r="1.1" fill="#3a2a55"/>
<line x1="404.60" y1="82.28" x2="404.60" y2="83.61" stroke="#3a2a55" stroke-width="0.9" />
<line x1="403.40" y1="82.28" x2="405.80" y2="82.28" stroke="#3a2a55" stroke-width="0.8" />
<line x1="403.40" y1="83.61" x2="405.80" y2="83.61" stroke="#3a2a55" stroke-width="0.8" />
<path d="M332.80,69.23 L347.16,71.00 L404.60,82.73" fill="none" stroke="#55203c" stroke-width="1.4"/>
<circle cx="332.80" cy="69.23" r="1.1" fill="#55203c"/>
<line x1="332.80" y1="68.12" x2="332.80" y2="70.33" stroke="#55203c" stroke-width="0.9" />
<line x1="331.60" y1="68.12" x2="334.00" y2="68.12" stroke="#55203c" stroke-width="0.8" />
<line x1="331.60" y1="70.33" x2="334.00" y2="70.33" stroke="#55203c" stroke-width="0.8" />
<circle cx="347.16" cy="71.00" r="1.1" fill="#55203c"/>
<line x1="347.16" y1="69.45" x2="347.16" y2="72.55" stroke="#55203c" stroke-width="0.9" />
<line x1="345.96" y1="69.45" x2="348.36" y2="69.45" stroke="#55203c" stroke-width="0.8" />
<line x1="345.96" y1="72.55" x2="348.36" y2="72.55" stroke="#55203c" stroke-width="0.8" />
<circle cx="404.60" cy="82.73" r="1.1" fill="#55203c"/>
<line x1="404.60" y1="81.62" x2="404.60" y2="83.83" stroke="#55203c" stroke-width="0.9" />
<line x1="403.40" y1="81.62" x2="405.80" y2="81.62" stroke="#55203c" stroke-width="0.8" />
<line x1="403.40" y1="83.83" x2="405.80" y2="83.83" stroke="#55203c" stroke-width="0.8" />
<line x1="439.10" y1="55.40" x2="439.10" y2="95.90" stroke="#1a1a1a" stroke-width="1.2" />
<line x1="436.30" y1="58.60" x2="439.10" y2="58.60" stroke="#1a1a1a" stroke-width="1.0" />
<text x="433.40" y="61.50" font-size="8.2" text-anchor="end">1.5</text>
<line x1="436.30" y1="69.67" x2="439.10" y2="69.67" stroke="#1a1a1a" stroke-width="1.0" />
<text x="433.40" y="72.57" font-size="8.2" text-anchor="end">1</text>
<line x1="436.30" y1="80.73" x2="439.10" y2="80.73" stroke="#1a1a1a" stroke-width="1.0" />
<text x="433.40" y="83.64" font-size="8.2" text-anchor="end">0.5</text>
<line x1="436.30" y1="91.80" x2="439.10" y2="91.80" stroke="#1a1a1a" stroke-width="1.0" />
<text x="433.40" y="94.70" font-size="8.2" text-anchor="end">0</text>
<line x1="439.10" y1="95.40" x2="516.10" y2="95.40" stroke="#1a1a1a" stroke-width="1.2" />
<line x1="442.80" y1="95.40" x2="442.80" y2="97.80" stroke="#1a1a1a" stroke-width="1.0" />
<text x="442.80" y="109.60" font-size="8.2" text-anchor="middle">0</text>
<line x1="457.16" y1="95.40" x2="457.16" y2="97.80" stroke="#1a1a1a" stroke-width="1.0" />
<text x="457.16" y="109.60" font-size="8.2" text-anchor="middle">2</text>
<line x1="471.52" y1="95.40" x2="471.52" y2="97.80" stroke="#1a1a1a" stroke-width="1.0" />
<text x="471.52" y="109.60" font-size="8.2" text-anchor="middle">4</text>
<line x1="485.88" y1="95.40" x2="485.88" y2="97.80" stroke="#1a1a1a" stroke-width="1.0" />
<text x="485.88" y="109.60" font-size="8.2" text-anchor="middle">6</text>
<line x1="500.24" y1="95.40" x2="500.24" y2="97.80" stroke="#1a1a1a" stroke-width="1.0" />
<text x="500.24" y="109.60" font-size="8.2" text-anchor="middle">8</text>
<line x1="514.60" y1="95.40" x2="514.60" y2="97.80" stroke="#1a1a1a" stroke-width="1.0" />
<text x="514.60" y="109.60" font-size="8.2" text-anchor="middle">10</text>
<text x="477.15" y="122.80" font-size="9.8" text-anchor="middle" textLength="75.30" lengthAdjust="spacingAndGlyphs">IL-7 stimulation (min)</text>
<path d="M442.80,69.67 L457.16,68.56 L514.60,76.75" fill="none" stroke="#3a2a50" stroke-width="1.2"/>
<circle cx="442.80" cy="69.67" r="1.1" fill="#3a2a50"/>
<line x1="442.80" y1="69.23" x2="442.80" y2="70.11" stroke="#3a2a50" stroke-width="0.9" />
<line x1="441.60" y1="69.23" x2="444.00" y2="69.23" stroke="#3a2a50" stroke-width="0.8" />
<line x1="441.60" y1="70.11" x2="444.00" y2="70.11" stroke="#3a2a50" stroke-width="0.8" />
<circle cx="457.16" cy="68.56" r="1.1" fill="#3a2a50"/>
<line x1="457.16" y1="66.35" x2="457.16" y2="70.78" stroke="#3a2a50" stroke-width="0.9" />
<line x1="455.96" y1="66.35" x2="458.36" y2="66.35" stroke="#3a2a50" stroke-width="0.8" />
<line x1="455.96" y1="70.78" x2="458.36" y2="70.78" stroke="#3a2a50" stroke-width="0.8" />
<circle cx="514.60" cy="76.75" r="1.1" fill="#3a2a50"/>
<line x1="514.60" y1="76.09" x2="514.60" y2="77.42" stroke="#3a2a50" stroke-width="0.9" />
<line x1="513.40" y1="76.09" x2="515.80" y2="76.09" stroke="#3a2a50" stroke-width="0.8" />
<line x1="513.40" y1="77.42" x2="515.80" y2="77.42" stroke="#3a2a50" stroke-width="0.8" />
<path d="M442.80,69.67 L457.16,69.67 L514.60,77.19" fill="none" stroke="#b85070" stroke-width="1.2"/>
<circle cx="442.80" cy="69.67" r="1.1" fill="#b85070"/>
<line x1="442.80" y1="69.23" x2="442.80" y2="70.11" stroke="#b85070" stroke-width="0.9" />
<line x1="441.60" y1="69.23" x2="444.00" y2="69.23" stroke="#b85070" stroke-width="0.8" />
<line x1="441.60" y1="70.11" x2="444.00" y2="70.11" stroke="#b85070" stroke-width="0.8" />
<circle cx="457.16" cy="69.67" r="1.1" fill="#b85070"/>
<line x1="457.16" y1="68.78" x2="457.16" y2="70.56" stroke="#b85070" stroke-width="0.9" />
<line x1="455.96" y1="68.78" x2="458.36" y2="68.78" stroke="#b85070" stroke-width="0.8" />
<line x1="455.96" y1="70.56" x2="458.36" y2="70.56" stroke="#b85070" stroke-width="0.8" />
<circle cx="514.60" cy="77.19" r="1.1" fill="#b85070"/>
<line x1="514.60" y1="76.53" x2="514.60" y2="77.86" stroke="#b85070" stroke-width="0.9" />
<line x1="513.40" y1="76.53" x2="515.80" y2="76.53" stroke="#b85070" stroke-width="0.8" />
<line x1="513.40" y1="77.86" x2="515.80" y2="77.86" stroke="#b85070" stroke-width="0.8" />
<text x="285.20" y="158.30" font-size="11.6" font-weight="bold" fill="#000">D</text>
<text x="398.10" y="175.60" font-size="9.8" textLength="25.90" lengthAdjust="spacingAndGlyphs">p-STAT5</text>
<text x="424.60" y="173.20" font-size="6.4" textLength="13.60" lengthAdjust="spacingAndGlyphs">Y694</text>
<line x1="337.70" y1="181.30" x2="498.40" y2="181.30" stroke="#1a1a1a" stroke-width="1.2" />
<text x="351.50" y="194.30" font-size="10.0" textLength="33.30" lengthAdjust="spacingAndGlyphs">Fraction A</text>
<text x="461.40" y="194.30" font-size="10.0" textLength="33.70" lengthAdjust="spacingAndGlyphs">Fraction B</text>
<text x="293.20" y="218.70" font-size="8.9" text-anchor="middle" textLength="52.80" lengthAdjust="spacingAndGlyphs" transform="rotate(-90 293.20 218.70)">MFI normalized</text>
<text x="305.00" y="217.30" font-size="8.9" text-anchor="middle" textLength="26.50" lengthAdjust="spacingAndGlyphs" transform="rotate(-90 305.00 217.30)">to WT T0</text>
<line x1="329.10" y1="197.40" x2="329.10" y2="237.90" stroke="#1a1a1a" stroke-width="1.2" />
<line x1="326.30" y1="200.30" x2="329.10" y2="200.30" stroke="#1a1a1a" stroke-width="1.0" />
<text x="323.40" y="203.20" font-size="8.2" text-anchor="end">1.5</text>
<line x1="326.30" y1="211.33" x2="329.10" y2="211.33" stroke="#1a1a1a" stroke-width="1.0" />
<text x="323.40" y="214.23" font-size="8.2" text-anchor="end">1</text>
<line x1="326.30" y1="222.37" x2="329.10" y2="222.37" stroke="#1a1a1a" stroke-width="1.0" />
<text x="323.40" y="225.27" font-size="8.2" text-anchor="end">0.5</text>
<line x1="326.30" y1="233.40" x2="329.10" y2="233.40" stroke="#1a1a1a" stroke-width="1.0" />
<text x="323.40" y="236.30" font-size="8.2" text-anchor="end">0</text>
<line x1="329.10" y1="237.40" x2="406.10" y2="237.40" stroke="#1a1a1a" stroke-width="1.2" />
<line x1="332.80" y1="237.40" x2="332.80" y2="239.80" stroke="#1a1a1a" stroke-width="1.0" />
<text x="332.80" y="251.60" font-size="8.2" text-anchor="middle">0</text>
<line x1="347.16" y1="237.40" x2="347.16" y2="239.80" stroke="#1a1a1a" stroke-width="1.0" />
<text x="347.16" y="251.60" font-size="8.2" text-anchor="middle">2</text>
<line x1="361.52" y1="237.40" x2="361.52" y2="239.80" stroke="#1a1a1a" stroke-width="1.0" />
<text x="361.52" y="251.60" font-size="8.2" text-anchor="middle">4</text>
<line x1="375.88" y1="237.40" x2="375.88" y2="239.80" stroke="#1a1a1a" stroke-width="1.0" />
<text x="375.88" y="251.60" font-size="8.2" text-anchor="middle">6</text>
<line x1="390.24" y1="237.40" x2="390.24" y2="239.80" stroke="#1a1a1a" stroke-width="1.0" />
<text x="390.24" y="251.60" font-size="8.2" text-anchor="middle">8</text>
<line x1="404.60" y1="237.40" x2="404.60" y2="239.80" stroke="#1a1a1a" stroke-width="1.0" />
<text x="404.60" y="251.60" font-size="8.2" text-anchor="middle">10</text>
<text x="367.15" y="265.00" font-size="9.8" text-anchor="middle" textLength="75.30" lengthAdjust="spacingAndGlyphs">IL-7 stimulation (min)</text>
<path d="M331.51,225.68 L345.87,223.91 L404.60,220.60" fill="none" stroke="#3a4274" stroke-width="1.1"/>
<circle cx="331.51" cy="225.68" r="1.1" fill="#3a4274"/>
<line x1="331.51" y1="225.23" x2="331.51" y2="226.12" stroke="#3a4274" stroke-width="0.9" />
<line x1="330.31" y1="225.23" x2="332.71" y2="225.23" stroke="#3a4274" stroke-width="0.8" />
<line x1="330.31" y1="226.12" x2="332.71" y2="226.12" stroke="#3a4274" stroke-width="0.8" />
<circle cx="345.87" cy="223.91" r="1.1" fill="#3a4274"/>
<line x1="345.87" y1="221.48" x2="345.87" y2="226.34" stroke="#3a4274" stroke-width="0.9" />
<line x1="344.67" y1="221.48" x2="347.07" y2="221.48" stroke="#3a4274" stroke-width="0.8" />
<line x1="344.67" y1="226.34" x2="347.07" y2="226.34" stroke="#3a4274" stroke-width="0.8" />
<circle cx="404.60" cy="220.60" r="1.1" fill="#3a4274"/>
<line x1="404.60" y1="220.16" x2="404.60" y2="221.04" stroke="#3a4274" stroke-width="0.9" />
<line x1="403.40" y1="220.16" x2="405.80" y2="220.16" stroke="#3a4274" stroke-width="0.8" />
<line x1="403.40" y1="221.04" x2="405.80" y2="221.04" stroke="#3a4274" stroke-width="0.8" />
<path d="M331.51,213.10 L345.87,210.45 L404.60,206.92" fill="none" stroke="#9c2f4c" stroke-width="1.1"/>
<circle cx="331.51" cy="213.10" r="1.1" fill="#9c2f4c"/>
<line x1="331.51" y1="210.67" x2="331.51" y2="215.52" stroke="#9c2f4c" stroke-width="0.9" />
<line x1="330.31" y1="210.67" x2="332.71" y2="210.67" stroke="#9c2f4c" stroke-width="0.8" />
<line x1="330.31" y1="215.52" x2="332.71" y2="215.52" stroke="#9c2f4c" stroke-width="0.8" />
<circle cx="345.87" cy="210.45" r="1.1" fill="#9c2f4c"/>
<line x1="345.87" y1="206.47" x2="345.87" y2="214.42" stroke="#9c2f4c" stroke-width="0.9" />
<line x1="344.67" y1="206.47" x2="347.07" y2="206.47" stroke="#9c2f4c" stroke-width="0.8" />
<line x1="344.67" y1="214.42" x2="347.07" y2="214.42" stroke="#9c2f4c" stroke-width="0.8" />
<circle cx="404.60" cy="206.92" r="1.1" fill="#9c2f4c"/>
<line x1="404.60" y1="203.27" x2="404.60" y2="210.56" stroke="#9c2f4c" stroke-width="0.9" />
<line x1="403.40" y1="203.27" x2="405.80" y2="203.27" stroke="#9c2f4c" stroke-width="0.8" />
<line x1="403.40" y1="210.56" x2="405.80" y2="210.56" stroke="#9c2f4c" stroke-width="0.8" />
<circle cx="330.55" cy="206.90" r="1.15" fill="#262626"/>
<circle cx="334.30" cy="206.90" r="1.15" fill="#262626"/>
<circle cx="338.05" cy="206.90" r="1.15" fill="#262626"/>
<circle cx="345.80" cy="202.70" r="1.15" fill="#262626"/>
<circle cx="402.73" cy="199.50" r="1.15" fill="#262626"/>
<circle cx="406.48" cy="199.50" r="1.15" fill="#262626"/>
<line x1="439.10" y1="197.40" x2="439.10" y2="237.90" stroke="#1a1a1a" stroke-width="1.2" />
<line x1="436.30" y1="199.90" x2="439.10" y2="199.90" stroke="#1a1a1a" stroke-width="1.0" />
<text x="433.40" y="202.80" font-size="8.2" text-anchor="end">2</text>
<line x1="436.30" y1="208.25" x2="439.10" y2="208.25" stroke="#1a1a1a" stroke-width="1.0" />
<text x="433.40" y="211.15" font-size="8.2" text-anchor="end">1.5</text>
<line x1="436.30" y1="216.60" x2="439.10" y2="216.60" stroke="#1a1a1a" stroke-width="1.0" />
<text x="433.40" y="219.50" font-size="8.2" text-anchor="end">1</text>
<line x1="436.30" y1="224.95" x2="439.10" y2="224.95" stroke="#1a1a1a" stroke-width="1.0" />
<text x="433.40" y="227.85" font-size="8.2" text-anchor="end">0.5</text>
<line x1="436.30" y1="233.30" x2="439.10" y2="233.30" stroke="#1a1a1a" stroke-width="1.0" />
<text x="433.40" y="236.20" font-size="8.2" text-anchor="end">0</text>
<line x1="439.10" y1="237.40" x2="516.10" y2="237.40" stroke="#1a1a1a" stroke-width="1.2" />
<line x1="442.80" y1="237.40" x2="442.80" y2="239.80" stroke="#1a1a1a" stroke-width="1.0" />
<text x="442.80" y="251.60" font-size="8.2" text-anchor="middle">0</text>
<line x1="457.16" y1="237.40" x2="457.16" y2="239.80" stroke="#1a1a1a" stroke-width="1.0" />
<text x="457.16" y="251.60" font-size="8.2" text-anchor="middle">2</text>
<line x1="471.52" y1="237.40" x2="471.52" y2="239.80" stroke="#1a1a1a" stroke-width="1.0" />
<text x="471.52" y="251.60" font-size="8.2" text-anchor="middle">4</text>
<line x1="485.88" y1="237.40" x2="485.88" y2="239.80" stroke="#1a1a1a" stroke-width="1.0" />
<text x="485.88" y="251.60" font-size="8.2" text-anchor="middle">6</text>
<line x1="500.24" y1="237.40" x2="500.24" y2="239.80" stroke="#1a1a1a" stroke-width="1.0" />
<text x="500.24" y="251.60" font-size="8.2" text-anchor="middle">8</text>
<line x1="514.60" y1="237.40" x2="514.60" y2="239.80" stroke="#1a1a1a" stroke-width="1.0" />
<text x="514.60" y="251.60" font-size="8.2" text-anchor="middle">10</text>
<text x="477.15" y="265.00" font-size="9.8" text-anchor="middle" textLength="75.30" lengthAdjust="spacingAndGlyphs">IL-7 stimulation (min)</text>
<path d="M442.80,222.95 L457.16,220.78 L514.60,216.60" fill="none" stroke="#3a4274" stroke-width="1.1"/>
<circle cx="442.80" cy="222.95" r="1.1" fill="#3a4274"/>
<line x1="442.80" y1="222.61" x2="442.80" y2="223.28" stroke="#3a4274" stroke-width="0.9" />
<line x1="441.60" y1="222.61" x2="444.00" y2="222.61" stroke="#3a4274" stroke-width="0.8" />
<line x1="441.60" y1="223.28" x2="444.00" y2="223.28" stroke="#3a4274" stroke-width="0.8" />
<circle cx="457.16" cy="220.78" r="1.1" fill="#3a4274"/>
<line x1="457.16" y1="220.44" x2="457.16" y2="221.11" stroke="#3a4274" stroke-width="0.9" />
<line x1="455.96" y1="220.44" x2="458.36" y2="220.44" stroke="#3a4274" stroke-width="0.8" />
<line x1="455.96" y1="221.11" x2="458.36" y2="221.11" stroke="#3a4274" stroke-width="0.8" />
<circle cx="514.60" cy="216.60" r="1.1" fill="#3a4274"/>
<line x1="514.60" y1="216.27" x2="514.60" y2="216.93" stroke="#3a4274" stroke-width="0.9" />
<line x1="513.40" y1="216.27" x2="515.80" y2="216.27" stroke="#3a4274" stroke-width="0.8" />
<line x1="513.40" y1="216.93" x2="515.80" y2="216.93" stroke="#3a4274" stroke-width="0.8" />
<path d="M442.80,216.60 L457.16,211.09 L514.60,205.91" fill="none" stroke="#9c2f4c" stroke-width="1.1"/>
<circle cx="442.80" cy="216.60" r="1.1" fill="#9c2f4c"/>
<line x1="442.80" y1="215.60" x2="442.80" y2="217.60" stroke="#9c2f4c" stroke-width="0.9" />
<line x1="441.60" y1="215.60" x2="444.00" y2="215.60" stroke="#9c2f4c" stroke-width="0.8" />
<line x1="441.60" y1="217.60" x2="444.00" y2="217.60" stroke="#9c2f4c" stroke-width="0.8" />
<circle cx="457.16" cy="211.09" r="1.1" fill="#9c2f4c"/>
<line x1="457.16" y1="209.42" x2="457.16" y2="212.76" stroke="#9c2f4c" stroke-width="0.9" />
<line x1="455.96" y1="209.42" x2="458.36" y2="209.42" stroke="#9c2f4c" stroke-width="0.8" />
<line x1="455.96" y1="212.76" x2="458.36" y2="212.76" stroke="#9c2f4c" stroke-width="0.8" />
<circle cx="514.60" cy="205.91" r="1.1" fill="#9c2f4c"/>
<line x1="514.60" y1="204.41" x2="514.60" y2="207.41" stroke="#9c2f4c" stroke-width="0.9" />
<line x1="513.40" y1="204.41" x2="515.80" y2="204.41" stroke="#9c2f4c" stroke-width="0.8" />
<line x1="513.40" y1="207.41" x2="515.80" y2="207.41" stroke="#9c2f4c" stroke-width="0.8" />
<circle cx="441.50" cy="211.80" r="1.15" fill="#262626"/>
<circle cx="445.25" cy="211.80" r="1.15" fill="#262626"/>
<circle cx="449.00" cy="211.80" r="1.15" fill="#262626"/>
<circle cx="455.48" cy="205.70" r="1.15" fill="#262626"/>
<circle cx="459.23" cy="205.70" r="1.15" fill="#262626"/>
<circle cx="510.55" cy="199.50" r="1.15" fill="#262626"/>
<circle cx="514.30" cy="199.50" r="1.15" fill="#262626"/>
<circle cx="518.05" cy="199.50" r="1.15" fill="#262626"/>
<text x="0.20" y="307.70" font-size="11.6" font-weight="bold" fill="#000">E</text>
<text x="117.50" y="325.50" font-size="9.4" textLength="23.50" lengthAdjust="spacingAndGlyphs">p-JAK1</text>
<text x="142.00" y="322.70" font-size="8.4" textLength="17.00" lengthAdjust="spacingAndGlyphs">Y1022</text>
<line x1="57.80" y1="331.50" x2="218.80" y2="331.50" stroke="#1a1a1a" stroke-width="1.2" />
<text x="72.00" y="343.90" font-size="10.0" textLength="33.10" lengthAdjust="spacingAndGlyphs">Fraction A</text>
<text x="181.90" y="343.90" font-size="10.0" textLength="33.50" lengthAdjust="spacingAndGlyphs">Fraction B</text>
<text x="13.20" y="368.70" font-size="8.9" text-anchor="middle" textLength="52.80" lengthAdjust="spacingAndGlyphs" transform="rotate(-90 13.20 368.70)">MFI normalized</text>
<text x="24.40" y="367.60" font-size="8.9" text-anchor="middle" textLength="27.50" lengthAdjust="spacingAndGlyphs" transform="rotate(-90 24.40 367.60)">to WT T0</text>
<line x1="48.60" y1="348.00" x2="48.60" y2="388.10" stroke="#1a1a1a" stroke-width="1.2" />
<line x1="45.80" y1="349.70" x2="48.60" y2="349.70" stroke="#1a1a1a" stroke-width="1.0" />
<text x="43.50" y="352.60" font-size="8.2" text-anchor="end">2.5</text>
<line x1="45.80" y1="356.56" x2="48.60" y2="356.56" stroke="#1a1a1a" stroke-width="1.0" />
<text x="43.50" y="359.46" font-size="8.2" text-anchor="end">2</text>
<line x1="45.80" y1="363.42" x2="48.60" y2="363.42" stroke="#1a1a1a" stroke-width="1.0" />
<text x="43.50" y="366.32" font-size="8.2" text-anchor="end">1.5</text>
<line x1="45.80" y1="370.28" x2="48.60" y2="370.28" stroke="#1a1a1a" stroke-width="1.0" />
<text x="43.50" y="373.18" font-size="8.2" text-anchor="end">1</text>
<line x1="45.80" y1="377.14" x2="48.60" y2="377.14" stroke="#1a1a1a" stroke-width="1.0" />
<text x="43.50" y="380.04" font-size="8.2" text-anchor="end">0.5</text>
<line x1="45.80" y1="384.00" x2="48.60" y2="384.00" stroke="#1a1a1a" stroke-width="1.0" />
<text x="43.50" y="386.90" font-size="8.2" text-anchor="end">0</text>
<line x1="48.60" y1="387.60" x2="126.10" y2="387.60" stroke="#1a1a1a" stroke-width="1.2" />
<line x1="52.80" y1="387.60" x2="52.80" y2="390.00" stroke="#1a1a1a" stroke-width="1.0" />
<text x="52.80" y="401.10" font-size="8.2" text-anchor="middle">0</text>
<line x1="67.16" y1="387.60" x2="67.16" y2="390.00" stroke="#1a1a1a" stroke-width="1.0" />
<text x="67.16" y="401.10" font-size="8.2" text-anchor="middle">2</text>
<line x1="81.52" y1="387.60" x2="81.52" y2="390.00" stroke="#1a1a1a" stroke-width="1.0" />
<text x="81.52" y="401.10" font-size="8.2" text-anchor="middle">4</text>
<line x1="95.88" y1="387.60" x2="95.88" y2="390.00" stroke="#1a1a1a" stroke-width="1.0" />
<text x="95.88" y="401.10" font-size="8.2" text-anchor="middle">6</text>
<line x1="110.24" y1="387.60" x2="110.24" y2="390.00" stroke="#1a1a1a" stroke-width="1.0" />
<text x="110.24" y="401.10" font-size="8.2" text-anchor="middle">8</text>
<line x1="124.60" y1="387.60" x2="124.60" y2="390.00" stroke="#1a1a1a" stroke-width="1.0" />
<text x="124.60" y="401.10" font-size="8.2" text-anchor="middle">10</text>
<text x="87.10" y="415.40" font-size="9.8" text-anchor="middle" textLength="75.20" lengthAdjust="spacingAndGlyphs">IL-7 stimulation (min)</text>
<path d="M53.37,374.26 L56.89,369.59 L60.41,371.24 L67.66,370.69 L124.60,374.81" fill="none" stroke="#3a4274" stroke-width="1.1"/>
<circle cx="53.37" cy="374.26" r="1.1" fill="#3a4274"/>
<line x1="53.37" y1="373.98" x2="53.37" y2="374.53" stroke="#3a4274" stroke-width="0.9" />
<line x1="52.17" y1="373.98" x2="54.57" y2="373.98" stroke="#3a4274" stroke-width="0.8" />
<line x1="52.17" y1="374.53" x2="54.57" y2="374.53" stroke="#3a4274" stroke-width="0.8" />
<circle cx="56.89" cy="369.59" r="1.1" fill="#3a4274"/>
<line x1="56.89" y1="369.18" x2="56.89" y2="370.01" stroke="#3a4274" stroke-width="0.9" />
<line x1="55.69" y1="369.18" x2="58.09" y2="369.18" stroke="#3a4274" stroke-width="0.8" />
<line x1="55.69" y1="370.01" x2="58.09" y2="370.01" stroke="#3a4274" stroke-width="0.8" />
<circle cx="60.41" cy="371.24" r="1.1" fill="#3a4274"/>
<line x1="60.41" y1="370.83" x2="60.41" y2="371.65" stroke="#3a4274" stroke-width="0.9" />
<line x1="59.21" y1="370.83" x2="61.61" y2="370.83" stroke="#3a4274" stroke-width="0.8" />
<line x1="59.21" y1="371.65" x2="61.61" y2="371.65" stroke="#3a4274" stroke-width="0.8" />
<circle cx="67.66" cy="370.69" r="1.1" fill="#3a4274"/>
<line x1="67.66" y1="370.14" x2="67.66" y2="371.24" stroke="#3a4274" stroke-width="0.9" />
<line x1="66.46" y1="370.14" x2="68.86" y2="370.14" stroke="#3a4274" stroke-width="0.8" />
<line x1="66.46" y1="371.24" x2="68.86" y2="371.24" stroke="#3a4274" stroke-width="0.8" />
<circle cx="124.60" cy="374.81" r="1.1" fill="#3a4274"/>
<line x1="124.60" y1="374.53" x2="124.60" y2="375.08" stroke="#3a4274" stroke-width="0.9" />
<line x1="123.40" y1="374.53" x2="125.80" y2="374.53" stroke="#3a4274" stroke-width="0.8" />
<line x1="123.40" y1="375.08" x2="125.80" y2="375.08" stroke="#3a4274" stroke-width="0.8" />
<path d="M53.37,370.14 L56.89,364.65 L60.41,366.58 L67.66,362.32 L124.60,367.81" fill="none" stroke="#9c2f4c" stroke-width="1.1"/>
<circle cx="53.37" cy="370.14" r="1.1" fill="#9c2f4c"/>
<line x1="53.37" y1="369.46" x2="53.37" y2="370.83" stroke="#9c2f4c" stroke-width="0.9" />
<line x1="52.17" y1="369.46" x2="54.57" y2="369.46" stroke="#9c2f4c" stroke-width="0.8" />
<line x1="52.17" y1="370.83" x2="54.57" y2="370.83" stroke="#9c2f4c" stroke-width="0.8" />
<circle cx="56.89" cy="364.65" r="1.1" fill="#9c2f4c"/>
<line x1="56.89" y1="362.87" x2="56.89" y2="366.44" stroke="#9c2f4c" stroke-width="0.9" />
<line x1="55.69" y1="362.87" x2="58.09" y2="362.87" stroke="#9c2f4c" stroke-width="0.8" />
<line x1="55.69" y1="366.44" x2="58.09" y2="366.44" stroke="#9c2f4c" stroke-width="0.8" />
<circle cx="60.41" cy="366.58" r="1.1" fill="#9c2f4c"/>
<line x1="60.41" y1="364.79" x2="60.41" y2="368.36" stroke="#9c2f4c" stroke-width="0.9" />
<line x1="59.21" y1="364.79" x2="61.61" y2="364.79" stroke="#9c2f4c" stroke-width="0.8" />
<line x1="59.21" y1="368.36" x2="61.61" y2="368.36" stroke="#9c2f4c" stroke-width="0.8" />
<circle cx="67.66" cy="362.32" r="1.1" fill="#9c2f4c"/>
<line x1="67.66" y1="360.68" x2="67.66" y2="363.97" stroke="#9c2f4c" stroke-width="0.9" />
<line x1="66.46" y1="360.68" x2="68.86" y2="360.68" stroke="#9c2f4c" stroke-width="0.8" />
<line x1="66.46" y1="363.97" x2="68.86" y2="363.97" stroke="#9c2f4c" stroke-width="0.8" />
<circle cx="124.60" cy="367.81" r="1.1" fill="#9c2f4c"/>
<line x1="124.60" y1="366.16" x2="124.60" y2="369.46" stroke="#9c2f4c" stroke-width="0.9" />
<line x1="123.40" y1="366.16" x2="125.80" y2="366.16" stroke="#9c2f4c" stroke-width="0.8" />
<line x1="123.40" y1="369.46" x2="125.80" y2="369.46" stroke="#9c2f4c" stroke-width="0.8" />
<circle cx="54.23" cy="357.40" r="1.15" fill="#262626"/>
<circle cx="57.98" cy="357.40" r="1.15" fill="#262626"/>
<circle cx="59.90" cy="361.30" r="1.15" fill="#262626"/>
<circle cx="63.85" cy="355.50" r="1.15" fill="#262626"/>
<circle cx="67.60" cy="355.50" r="1.15" fill="#262626"/>
<circle cx="71.35" cy="355.50" r="1.15" fill="#262626"/>
<circle cx="52.15" cy="378.90" r="1.15" fill="#262626"/>
<circle cx="55.90" cy="378.90" r="1.15" fill="#262626"/>
<circle cx="59.65" cy="378.90" r="1.15" fill="#262626"/>
<circle cx="119.08" cy="361.80" r="1.15" fill="#262626"/>
<circle cx="122.83" cy="361.80" r="1.15" fill="#262626"/>
<circle cx="126.58" cy="361.80" r="1.15" fill="#262626"/>
<circle cx="130.32" cy="361.80" r="1.15" fill="#262626"/>
<line x1="158.60" y1="348.00" x2="158.60" y2="388.20" stroke="#1a1a1a" stroke-width="1.2" />
<line x1="155.80" y1="349.80" x2="158.60" y2="349.80" stroke="#1a1a1a" stroke-width="1.0" />
<text x="153.50" y="352.70" font-size="8.2" text-anchor="end">2.5</text>
<line x1="155.80" y1="356.66" x2="158.60" y2="356.66" stroke="#1a1a1a" stroke-width="1.0" />
<text x="153.50" y="359.56" font-size="8.2" text-anchor="end">2</text>
<line x1="155.80" y1="363.52" x2="158.60" y2="363.52" stroke="#1a1a1a" stroke-width="1.0" />
<text x="153.50" y="366.42" font-size="8.2" text-anchor="end">1.5</text>
<line x1="155.80" y1="370.38" x2="158.60" y2="370.38" stroke="#1a1a1a" stroke-width="1.0" />
<text x="153.50" y="373.28" font-size="8.2" text-anchor="end">1</text>
<line x1="155.80" y1="377.24" x2="158.60" y2="377.24" stroke="#1a1a1a" stroke-width="1.0" />
<text x="153.50" y="380.14" font-size="8.2" text-anchor="end">0.5</text>
<line x1="155.80" y1="384.10" x2="158.60" y2="384.10" stroke="#1a1a1a" stroke-width="1.0" />
<text x="153.50" y="387.00" font-size="8.2" text-anchor="end">0</text>
<line x1="158.60" y1="387.70" x2="236.10" y2="387.70" stroke="#1a1a1a" stroke-width="1.2" />
<line x1="162.80" y1="387.70" x2="162.80" y2="390.10" stroke="#1a1a1a" stroke-width="1.0" />
<text x="162.80" y="401.10" font-size="8.2" text-anchor="middle">0</text>
<line x1="177.16" y1="387.70" x2="177.16" y2="390.10" stroke="#1a1a1a" stroke-width="1.0" />
<text x="177.16" y="401.10" font-size="8.2" text-anchor="middle">2</text>
<line x1="191.52" y1="387.70" x2="191.52" y2="390.10" stroke="#1a1a1a" stroke-width="1.0" />
<text x="191.52" y="401.10" font-size="8.2" text-anchor="middle">4</text>
<line x1="205.88" y1="387.70" x2="205.88" y2="390.10" stroke="#1a1a1a" stroke-width="1.0" />
<text x="205.88" y="401.10" font-size="8.2" text-anchor="middle">6</text>
<line x1="220.24" y1="387.70" x2="220.24" y2="390.10" stroke="#1a1a1a" stroke-width="1.0" />
<text x="220.24" y="401.10" font-size="8.2" text-anchor="middle">8</text>
<line x1="234.60" y1="387.70" x2="234.60" y2="390.10" stroke="#1a1a1a" stroke-width="1.0" />
<text x="234.60" y="401.10" font-size="8.2" text-anchor="middle">10</text>
<text x="197.70" y="415.00" font-size="9.8" text-anchor="middle" textLength="75.20" lengthAdjust="spacingAndGlyphs">IL-7 stimulation (min)</text>
<path d="M163.37,373.54 L166.89,364.07 L170.41,369.01 L177.38,374.22 L234.03,374.22" fill="none" stroke="#3a4274" stroke-width="1.1"/>
<circle cx="163.37" cy="373.54" r="1.1" fill="#3a4274"/>
<line x1="163.37" y1="373.26" x2="163.37" y2="373.81" stroke="#3a4274" stroke-width="0.9" />
<line x1="162.17" y1="373.26" x2="164.57" y2="373.26" stroke="#3a4274" stroke-width="0.8" />
<line x1="162.17" y1="373.81" x2="164.57" y2="373.81" stroke="#3a4274" stroke-width="0.8" />
<circle cx="166.89" cy="364.07" r="1.1" fill="#3a4274"/>
<line x1="166.89" y1="363.79" x2="166.89" y2="364.34" stroke="#3a4274" stroke-width="0.9" />
<line x1="165.69" y1="363.79" x2="168.09" y2="363.79" stroke="#3a4274" stroke-width="0.8" />
<line x1="165.69" y1="364.34" x2="168.09" y2="364.34" stroke="#3a4274" stroke-width="0.8" />
<circle cx="170.41" cy="369.01" r="1.1" fill="#3a4274"/>
<line x1="170.41" y1="368.73" x2="170.41" y2="369.28" stroke="#3a4274" stroke-width="0.9" />
<line x1="169.21" y1="368.73" x2="171.61" y2="368.73" stroke="#3a4274" stroke-width="0.8" />
<line x1="169.21" y1="369.28" x2="171.61" y2="369.28" stroke="#3a4274" stroke-width="0.8" />
<circle cx="177.38" cy="374.22" r="1.1" fill="#3a4274"/>
<line x1="177.38" y1="373.95" x2="177.38" y2="374.50" stroke="#3a4274" stroke-width="0.9" />
<line x1="176.18" y1="373.95" x2="178.58" y2="373.95" stroke="#3a4274" stroke-width="0.8" />
<line x1="176.18" y1="374.50" x2="178.58" y2="374.50" stroke="#3a4274" stroke-width="0.8" />
<circle cx="234.03" cy="374.22" r="1.1" fill="#3a4274"/>
<line x1="234.03" y1="373.95" x2="234.03" y2="374.50" stroke="#3a4274" stroke-width="0.9" />
<line x1="232.83" y1="373.95" x2="235.23" y2="373.95" stroke="#3a4274" stroke-width="0.8" />
<line x1="232.83" y1="374.50" x2="235.23" y2="374.50" stroke="#3a4274" stroke-width="0.8" />
<path d="M163.37,370.38 L166.89,363.79 L170.41,369.01 L177.38,368.73 L234.03,369.97" fill="none" stroke="#9c2f4c" stroke-width="1.1"/>
<circle cx="163.37" cy="370.38" r="1.1" fill="#9c2f4c"/>
<line x1="163.37" y1="369.83" x2="163.37" y2="370.93" stroke="#9c2f4c" stroke-width="0.9" />
<line x1="162.17" y1="369.83" x2="164.57" y2="369.83" stroke="#9c2f4c" stroke-width="0.8" />
<line x1="162.17" y1="370.93" x2="164.57" y2="370.93" stroke="#9c2f4c" stroke-width="0.8" />
<circle cx="166.89" cy="363.79" r="1.1" fill="#9c2f4c"/>
<line x1="166.89" y1="363.11" x2="166.89" y2="364.48" stroke="#9c2f4c" stroke-width="0.9" />
<line x1="165.69" y1="363.11" x2="168.09" y2="363.11" stroke="#9c2f4c" stroke-width="0.8" />
<line x1="165.69" y1="364.48" x2="168.09" y2="364.48" stroke="#9c2f4c" stroke-width="0.8" />
<circle cx="170.41" cy="369.01" r="1.1" fill="#9c2f4c"/>
<line x1="170.41" y1="368.46" x2="170.41" y2="369.56" stroke="#9c2f4c" stroke-width="0.9" />
<line x1="169.21" y1="368.46" x2="171.61" y2="368.46" stroke="#9c2f4c" stroke-width="0.8" />
<line x1="169.21" y1="369.56" x2="171.61" y2="369.56" stroke="#9c2f4c" stroke-width="0.8" />
<circle cx="177.38" cy="368.73" r="1.1" fill="#9c2f4c"/>
<line x1="177.38" y1="366.68" x2="177.38" y2="370.79" stroke="#9c2f4c" stroke-width="0.9" />
<line x1="176.18" y1="366.68" x2="178.58" y2="366.68" stroke="#9c2f4c" stroke-width="0.8" />
<line x1="176.18" y1="370.79" x2="178.58" y2="370.79" stroke="#9c2f4c" stroke-width="0.8" />
<circle cx="234.03" cy="369.97" r="1.1" fill="#9c2f4c"/>
<line x1="234.03" y1="369.15" x2="234.03" y2="370.79" stroke="#9c2f4c" stroke-width="0.9" />
<line x1="232.83" y1="369.15" x2="235.23" y2="369.15" stroke="#9c2f4c" stroke-width="0.8" />
<line x1="232.83" y1="370.79" x2="235.23" y2="370.79" stroke="#9c2f4c" stroke-width="0.8" />
<circle cx="175.53" cy="361.70" r="1.15" fill="#262626"/>
<circle cx="179.28" cy="361.70" r="1.15" fill="#262626"/>
<circle cx="161.50" cy="378.30" r="1.15" fill="#262626"/>
<circle cx="165.25" cy="378.30" r="1.15" fill="#262626"/>
<circle cx="169.00" cy="378.30" r="1.15" fill="#262626"/>
<circle cx="230.15" cy="363.80" r="1.15" fill="#262626"/>
<circle cx="233.90" cy="363.80" r="1.15" fill="#262626"/>
<circle cx="237.65" cy="363.80" r="1.15" fill="#262626"/>
<text x="285.40" y="308.00" font-size="11.6" font-weight="bold" fill="#000">F</text>
<text x="392.80" y="328.00" font-size="10.0" textLength="23.50" lengthAdjust="spacingAndGlyphs">p-JAK3</text>
<text x="416.80" y="324.70" font-size="8.4" textLength="26.00" lengthAdjust="spacingAndGlyphs">Y980/981</text>
<line x1="337.50" y1="333.80" x2="498.40" y2="333.80" stroke="#1a1a1a" stroke-width="1.2" />
<text x="351.80" y="346.70" font-size="10.0" textLength="32.20" lengthAdjust="spacingAndGlyphs">Fraction A</text>
<text x="461.80" y="346.70" font-size="10.0" textLength="33.30" lengthAdjust="spacingAndGlyphs">Fraction B</text>
<text x="293.20" y="370.70" font-size="8.9" text-anchor="middle" textLength="52.80" lengthAdjust="spacingAndGlyphs" transform="rotate(-90 293.20 370.70)">MFI normalized</text>
<text x="305.00" y="369.30" font-size="8.9" text-anchor="middle" textLength="26.50" lengthAdjust="spacingAndGlyphs" transform="rotate(-90 305.00 369.30)">to WT T0</text>
<line x1="329.10" y1="349.40" x2="329.10" y2="390.20" stroke="#1a1a1a" stroke-width="1.2" />
<line x1="326.30" y1="352.60" x2="329.10" y2="352.60" stroke="#1a1a1a" stroke-width="1.0" />
<text x="323.40" y="355.50" font-size="8.2" text-anchor="end">1.5</text>
<line x1="326.30" y1="363.73" x2="329.10" y2="363.73" stroke="#1a1a1a" stroke-width="1.0" />
<text x="323.40" y="366.63" font-size="8.2" text-anchor="end">1</text>
<line x1="326.30" y1="374.87" x2="329.10" y2="374.87" stroke="#1a1a1a" stroke-width="1.0" />
<text x="323.40" y="377.76" font-size="8.2" text-anchor="end">0.5</text>
<line x1="326.30" y1="386.00" x2="329.10" y2="386.00" stroke="#1a1a1a" stroke-width="1.0" />
<text x="323.40" y="388.90" font-size="8.2" text-anchor="end">0</text>
<line x1="329.10" y1="389.70" x2="406.10" y2="389.70" stroke="#1a1a1a" stroke-width="1.2" />
<line x1="332.80" y1="389.70" x2="332.80" y2="392.10" stroke="#1a1a1a" stroke-width="1.0" />
<text x="332.80" y="403.60" font-size="8.2" text-anchor="middle">0</text>
<line x1="347.16" y1="389.70" x2="347.16" y2="392.10" stroke="#1a1a1a" stroke-width="1.0" />
<text x="347.16" y="403.60" font-size="8.2" text-anchor="middle">2</text>
<line x1="361.52" y1="389.70" x2="361.52" y2="392.10" stroke="#1a1a1a" stroke-width="1.0" />
<text x="361.52" y="403.60" font-size="8.2" text-anchor="middle">4</text>
<line x1="375.88" y1="389.70" x2="375.88" y2="392.10" stroke="#1a1a1a" stroke-width="1.0" />
<text x="375.88" y="403.60" font-size="8.2" text-anchor="middle">6</text>
<line x1="390.24" y1="389.70" x2="390.24" y2="392.10" stroke="#1a1a1a" stroke-width="1.0" />
<text x="390.24" y="403.60" font-size="8.2" text-anchor="middle">8</text>
<line x1="404.60" y1="389.70" x2="404.60" y2="392.10" stroke="#1a1a1a" stroke-width="1.0" />
<text x="404.60" y="403.60" font-size="8.2" text-anchor="middle">10</text>
<text x="367.15" y="417.60" font-size="9.8" text-anchor="middle" textLength="75.30" lengthAdjust="spacingAndGlyphs">IL-7 stimulation (min)</text>
<path d="M332.87,367.74 L336.32,366.63 L339.69,367.96 L347.02,369.07 L404.03,369.97" fill="none" stroke="#3a4274" stroke-width="1.1"/>
<circle cx="332.87" cy="367.74" r="1.1" fill="#3a4274"/>
<line x1="332.87" y1="367.29" x2="332.87" y2="368.18" stroke="#3a4274" stroke-width="0.9" />
<line x1="331.67" y1="367.29" x2="334.07" y2="367.29" stroke="#3a4274" stroke-width="0.8" />
<line x1="331.67" y1="368.18" x2="334.07" y2="368.18" stroke="#3a4274" stroke-width="0.8" />
<circle cx="336.32" cy="366.63" r="1.1" fill="#3a4274"/>
<line x1="336.32" y1="366.18" x2="336.32" y2="367.07" stroke="#3a4274" stroke-width="0.9" />
<line x1="335.12" y1="366.18" x2="337.52" y2="366.18" stroke="#3a4274" stroke-width="0.8" />
<line x1="335.12" y1="367.07" x2="337.52" y2="367.07" stroke="#3a4274" stroke-width="0.8" />
<circle cx="339.69" cy="367.96" r="1.1" fill="#3a4274"/>
<line x1="339.69" y1="366.63" x2="339.69" y2="369.30" stroke="#3a4274" stroke-width="0.9" />
<line x1="338.49" y1="366.63" x2="340.89" y2="366.63" stroke="#3a4274" stroke-width="0.8" />
<line x1="338.49" y1="369.30" x2="340.89" y2="369.30" stroke="#3a4274" stroke-width="0.8" />
<circle cx="347.02" cy="369.07" r="1.1" fill="#3a4274"/>
<line x1="347.02" y1="368.18" x2="347.02" y2="369.97" stroke="#3a4274" stroke-width="0.9" />
<line x1="345.82" y1="368.18" x2="348.22" y2="368.18" stroke="#3a4274" stroke-width="0.8" />
<line x1="345.82" y1="369.97" x2="348.22" y2="369.97" stroke="#3a4274" stroke-width="0.8" />
<circle cx="404.03" cy="369.97" r="1.1" fill="#3a4274"/>
<line x1="404.03" y1="369.52" x2="404.03" y2="370.41" stroke="#3a4274" stroke-width="0.9" />
<line x1="402.83" y1="369.52" x2="405.23" y2="369.52" stroke="#3a4274" stroke-width="0.8" />
<line x1="402.83" y1="370.41" x2="405.23" y2="370.41" stroke="#3a4274" stroke-width="0.8" />
<path d="M332.87,363.51 L336.32,360.39 L339.69,362.62 L347.02,365.29 L404.03,367.29" fill="none" stroke="#9c2f4c" stroke-width="1.1"/>
<circle cx="332.87" cy="363.51" r="1.1" fill="#9c2f4c"/>
<line x1="332.87" y1="362.39" x2="332.87" y2="364.62" stroke="#9c2f4c" stroke-width="0.9" />
<line x1="331.67" y1="362.39" x2="334.07" y2="362.39" stroke="#9c2f4c" stroke-width="0.8" />
<line x1="331.67" y1="364.62" x2="334.07" y2="364.62" stroke="#9c2f4c" stroke-width="0.8" />
<circle cx="336.32" cy="360.39" r="1.1" fill="#9c2f4c"/>
<line x1="336.32" y1="359.28" x2="336.32" y2="361.50" stroke="#9c2f4c" stroke-width="0.9" />
<line x1="335.12" y1="359.28" x2="337.52" y2="359.28" stroke="#9c2f4c" stroke-width="0.8" />
<line x1="335.12" y1="361.50" x2="337.52" y2="361.50" stroke="#9c2f4c" stroke-width="0.8" />
<circle cx="339.69" cy="362.62" r="1.1" fill="#9c2f4c"/>
<line x1="339.69" y1="361.73" x2="339.69" y2="363.51" stroke="#9c2f4c" stroke-width="0.9" />
<line x1="338.49" y1="361.73" x2="340.89" y2="361.73" stroke="#9c2f4c" stroke-width="0.8" />
<line x1="338.49" y1="363.51" x2="340.89" y2="363.51" stroke="#9c2f4c" stroke-width="0.8" />
<circle cx="347.02" cy="365.29" r="1.1" fill="#9c2f4c"/>
<line x1="347.02" y1="362.62" x2="347.02" y2="367.96" stroke="#9c2f4c" stroke-width="0.9" />
<line x1="345.82" y1="362.62" x2="348.22" y2="362.62" stroke="#9c2f4c" stroke-width="0.8" />
<line x1="345.82" y1="367.96" x2="348.22" y2="367.96" stroke="#9c2f4c" stroke-width="0.8" />
<circle cx="404.03" cy="367.29" r="1.1" fill="#9c2f4c"/>
<line x1="404.03" y1="366.40" x2="404.03" y2="368.18" stroke="#9c2f4c" stroke-width="0.9" />
<line x1="402.83" y1="366.40" x2="405.23" y2="366.40" stroke="#9c2f4c" stroke-width="0.8" />
<line x1="402.83" y1="368.18" x2="405.23" y2="368.18" stroke="#9c2f4c" stroke-width="0.8" />
<circle cx="334.18" cy="351.90" r="1.15" fill="#262626"/>
<circle cx="337.93" cy="351.90" r="1.15" fill="#262626"/>
<circle cx="332.80" cy="357.20" r="1.15" fill="#262626"/>
<circle cx="347.00" cy="359.90" r="1.15" fill="#262626"/>
<circle cx="404.10" cy="361.40" r="1.15" fill="#262626"/>
<line x1="439.10" y1="349.40" x2="439.10" y2="390.20" stroke="#1a1a1a" stroke-width="1.2" />
<line x1="436.30" y1="352.60" x2="439.10" y2="352.60" stroke="#1a1a1a" stroke-width="1.0" />
<text x="433.40" y="355.50" font-size="8.2" text-anchor="end">1.5</text>
<line x1="436.30" y1="363.73" x2="439.10" y2="363.73" stroke="#1a1a1a" stroke-width="1.0" />
<text x="433.40" y="366.63" font-size="8.2" text-anchor="end">1</text>
<line x1="436.30" y1="374.87" x2="439.10" y2="374.87" stroke="#1a1a1a" stroke-width="1.0" />
<text x="433.40" y="377.76" font-size="8.2" text-anchor="end">0.5</text>
<line x1="436.30" y1="386.00" x2="439.10" y2="386.00" stroke="#1a1a1a" stroke-width="1.0" />
<text x="433.40" y="388.90" font-size="8.2" text-anchor="end">0</text>
<line x1="439.10" y1="389.70" x2="516.10" y2="389.70" stroke="#1a1a1a" stroke-width="1.2" />
<line x1="442.80" y1="389.70" x2="442.80" y2="392.10" stroke="#1a1a1a" stroke-width="1.0" />
<text x="442.80" y="403.60" font-size="8.2" text-anchor="middle">0</text>
<line x1="457.16" y1="389.70" x2="457.16" y2="392.10" stroke="#1a1a1a" stroke-width="1.0" />
<text x="457.16" y="403.60" font-size="8.2" text-anchor="middle">2</text>
<line x1="471.52" y1="389.70" x2="471.52" y2="392.10" stroke="#1a1a1a" stroke-width="1.0" />
<text x="471.52" y="403.60" font-size="8.2" text-anchor="middle">4</text>
<line x1="485.88" y1="389.70" x2="485.88" y2="392.10" stroke="#1a1a1a" stroke-width="1.0" />
<text x="485.88" y="403.60" font-size="8.2" text-anchor="middle">6</text>
<line x1="500.24" y1="389.70" x2="500.24" y2="392.10" stroke="#1a1a1a" stroke-width="1.0" />
<text x="500.24" y="403.60" font-size="8.2" text-anchor="middle">8</text>
<line x1="514.60" y1="389.70" x2="514.60" y2="392.10" stroke="#1a1a1a" stroke-width="1.0" />
<text x="514.60" y="403.60" font-size="8.2" text-anchor="middle">10</text>
<text x="477.15" y="417.60" font-size="9.8" text-anchor="middle" textLength="75.30" lengthAdjust="spacingAndGlyphs">IL-7 stimulation (min)</text>
<path d="M443.23,362.62 L446.32,359.94 L449.84,362.17 L457.02,362.17 L514.10,361.06" fill="none" stroke="#3a4274" stroke-width="1.1"/>
<circle cx="443.23" cy="362.62" r="1.1" fill="#3a4274"/>
<line x1="443.23" y1="362.17" x2="443.23" y2="363.06" stroke="#3a4274" stroke-width="0.9" />
<line x1="442.03" y1="362.17" x2="444.43" y2="362.17" stroke="#3a4274" stroke-width="0.8" />
<line x1="442.03" y1="363.06" x2="444.43" y2="363.06" stroke="#3a4274" stroke-width="0.8" />
<circle cx="446.32" cy="359.94" r="1.1" fill="#3a4274"/>
<line x1="446.32" y1="359.28" x2="446.32" y2="360.61" stroke="#3a4274" stroke-width="0.9" />
<line x1="445.12" y1="359.28" x2="447.52" y2="359.28" stroke="#3a4274" stroke-width="0.8" />
<line x1="445.12" y1="360.61" x2="447.52" y2="360.61" stroke="#3a4274" stroke-width="0.8" />
<circle cx="449.84" cy="362.17" r="1.1" fill="#3a4274"/>
<line x1="449.84" y1="361.73" x2="449.84" y2="362.62" stroke="#3a4274" stroke-width="0.9" />
<line x1="448.64" y1="361.73" x2="451.04" y2="361.73" stroke="#3a4274" stroke-width="0.8" />
<line x1="448.64" y1="362.62" x2="451.04" y2="362.62" stroke="#3a4274" stroke-width="0.8" />
<circle cx="457.02" cy="362.17" r="1.1" fill="#3a4274"/>
<line x1="457.02" y1="361.73" x2="457.02" y2="362.62" stroke="#3a4274" stroke-width="0.9" />
<line x1="455.82" y1="361.73" x2="458.22" y2="361.73" stroke="#3a4274" stroke-width="0.8" />
<line x1="455.82" y1="362.62" x2="458.22" y2="362.62" stroke="#3a4274" stroke-width="0.8" />
<circle cx="514.10" cy="361.06" r="1.1" fill="#3a4274"/>
<line x1="514.10" y1="360.61" x2="514.10" y2="361.50" stroke="#3a4274" stroke-width="0.9" />
<line x1="512.90" y1="360.61" x2="515.30" y2="360.61" stroke="#3a4274" stroke-width="0.8" />
<line x1="512.90" y1="361.50" x2="515.30" y2="361.50" stroke="#3a4274" stroke-width="0.8" />
<path d="M443.23,363.06 L446.32,363.73 L449.84,365.07 L457.02,365.51 L514.10,365.73" fill="none" stroke="#9c2f4c" stroke-width="1.1"/>
<circle cx="443.23" cy="363.06" r="1.1" fill="#9c2f4c"/>
<line x1="443.23" y1="362.39" x2="443.23" y2="363.73" stroke="#9c2f4c" stroke-width="0.9" />
<line x1="442.03" y1="362.39" x2="444.43" y2="362.39" stroke="#9c2f4c" stroke-width="0.8" />
<line x1="442.03" y1="363.73" x2="444.43" y2="363.73" stroke="#9c2f4c" stroke-width="0.8" />
<circle cx="446.32" cy="363.73" r="1.1" fill="#9c2f4c"/>
<line x1="446.32" y1="363.06" x2="446.32" y2="364.40" stroke="#9c2f4c" stroke-width="0.9" />
<line x1="445.12" y1="363.06" x2="447.52" y2="363.06" stroke="#9c2f4c" stroke-width="0.8" />
<line x1="445.12" y1="364.40" x2="447.52" y2="364.40" stroke="#9c2f4c" stroke-width="0.8" />
<circle cx="449.84" cy="365.07" r="1.1" fill="#9c2f4c"/>
<line x1="449.84" y1="364.62" x2="449.84" y2="365.51" stroke="#9c2f4c" stroke-width="0.9" />
<line x1="448.64" y1="364.62" x2="451.04" y2="364.62" stroke="#9c2f4c" stroke-width="0.8" />
<line x1="448.64" y1="365.51" x2="451.04" y2="365.51" stroke="#9c2f4c" stroke-width="0.8" />
<circle cx="457.02" cy="365.51" r="1.1" fill="#9c2f4c"/>
<line x1="457.02" y1="365.07" x2="457.02" y2="365.96" stroke="#9c2f4c" stroke-width="0.9" />
<line x1="455.82" y1="365.07" x2="458.22" y2="365.07" stroke="#9c2f4c" stroke-width="0.8" />
<line x1="455.82" y1="365.96" x2="458.22" y2="365.96" stroke="#9c2f4c" stroke-width="0.8" />
<circle cx="514.10" cy="365.73" r="1.1" fill="#9c2f4c"/>
<line x1="514.10" y1="365.29" x2="514.10" y2="366.18" stroke="#9c2f4c" stroke-width="0.9" />
<line x1="512.90" y1="365.29" x2="515.30" y2="365.29" stroke="#9c2f4c" stroke-width="0.8" />
<line x1="512.90" y1="366.18" x2="515.30" y2="366.18" stroke="#9c2f4c" stroke-width="0.8" />
<circle cx="514.40" cy="355.50" r="1.15" fill="#262626"/>
</g>
</svg></body></html>
